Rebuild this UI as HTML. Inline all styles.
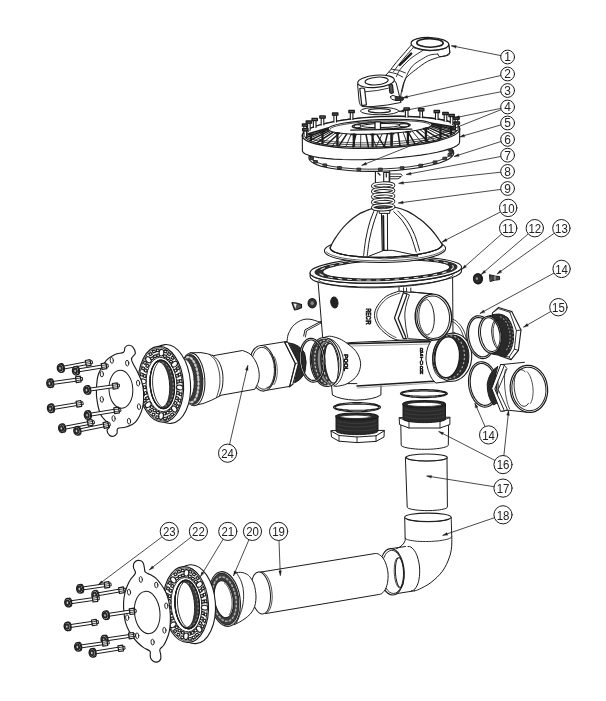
<!DOCTYPE html>
<html><head><meta charset="utf-8"><title>Valve exploded view</title>
<style>
html,body{margin:0;padding:0;background:#fff;}
body{width:606px;height:701px;overflow:hidden;font-family:"Liberation Sans",sans-serif;}
svg{display:block;}
svg text{font-family:"Liberation Sans",sans-serif;}
svg{filter:grayscale(1);}
</style></head><body>
<svg width="606" height="701" viewBox="0 0 606 701" fill="none" stroke-linecap="round" stroke-linejoin="round">
<rect x="0" y="0" width="606" height="701" fill="#fff" stroke="none"/>
<path d="M404.7,517.3 L405.3,540.4 Q402,546.5 396.4,548.7 L390.6,548.7 L391.5,594.4 L414.6,590.8 L414.6,590.8 L419.5,589.1 L431.0,582.5 L442.6,571.0 L449.2,557.8 L451.7,546.2 L451.6,532.0 L451.2,517.3 Z" fill="#fff" stroke="#1c1c1c" stroke-width="0" />
<path d="M451.2,517.3 C451.3,519.8 451.5,527.2 451.6,532.0 C451.7,536.8 452.1,541.9 451.7,546.2 C451.3,550.5 450.7,553.7 449.2,557.8 C447.7,561.9 445.6,566.9 442.6,571.0 C439.6,575.1 434.9,579.5 431.0,582.5 C427.1,585.5 422.2,587.7 419.5,589.1 C416.8,590.5 415.4,590.5 414.6,590.8" fill="none" stroke="#1c1c1c" stroke-width="1" />
<path d="M404.7,517.3 L405.2,540.4 Q403.5,546 396.4,548.7" fill="none" stroke="#1c1c1c" stroke-width="1" />
<ellipse cx="427.9" cy="517.3" rx="23.2" ry="4.2" fill="#fff" stroke="#1c1c1c" stroke-width="1.1" />
<path d="M449.5,518.4 L449.3,518.8 L448.8,519.3 L447.9,519.7 L446.6,520.0 L445.0,520.4 L443.2,520.7 L441.0,521.0 L438.7,521.3 L436.2,521.4 L433.5,521.6 L430.7,521.7 L427.9,521.7 L425.1,521.7 L422.3,521.6 L419.6,521.4 L417.1,521.3 L414.8,521.0 L412.6,520.7 L410.8,520.4 L409.2,520.0 L407.9,519.7 L407.0,519.3 L406.5,518.8 L406.3,518.4" fill="none" stroke="#1c1c1c" stroke-width="1.0" />
<path d="M451.6,536.8 L451.2,537.4 L450.6,537.9 L449.5,538.4 L448.1,539.0 L446.4,539.4 L444.4,539.9 L442.2,540.3 L439.7,540.7 L437.1,541.0 L434.3,541.2 L431.4,541.4 L428.5,541.5 L425.6,541.5 L422.7,541.5 L419.9,541.4 L417.3,541.3 L414.8,541.0 L412.5,540.7 L410.5,540.4 L408.8,540.0 L407.4,539.6 L406.3,539.1 L405.6,538.6 L405.2,538.0" fill="none" stroke="#1c1c1c" stroke-width="0.9" />
<path d="M390.6,548.7 L405.5,546.5 M391.5,594.4 L414.6,590.8" fill="none" stroke="#1c1c1c" stroke-width="1" />
<path d="M408.0,546.5 L409.4,546.6 L410.7,547.0 L412.0,547.9 L413.2,549.1 L414.4,550.6 L415.6,552.5 L416.6,554.6 L417.5,557.0 L418.2,559.5 L418.8,562.3 L419.3,565.1 L419.6,568.0 L419.7,570.9 L419.6,573.8 L419.4,576.6 L419.0,579.2 L418.5,581.7 L417.8,583.9 L416.9,585.9 L415.9,587.6 L414.9,589.0 L413.7,590.0 L412.4,590.7 L411.2,590.9" fill="none" stroke="#1c1c1c" stroke-width="1" />
<ellipse cx="391.8" cy="571.8" rx="12.3" ry="23.2" transform="rotate(-3 391.8 571.8)" fill="#fff" stroke="#1c1c1c" stroke-width="1.1" />
<ellipse cx="392.6" cy="571.9" rx="10.9" ry="21.6" transform="rotate(-3 392.6 571.9)" fill="#fff" stroke="#1c1c1c" stroke-width="0.9" />
<ellipse cx="399.7" cy="572.6" rx="4.3" ry="14.9" transform="rotate(-3 399.7 572.6)" fill="none" stroke="#1c1c1c" stroke-width="1" />
<path d="M398.6,587.3 L398.1,586.9 L397.6,586.4 L397.1,585.6 L396.7,584.7 L396.2,583.6 L395.8,582.3 L395.4,581.0 L395.1,579.5 L394.8,577.9 L394.6,576.3 L394.4,574.6 L394.3,572.8 L394.2,571.1 L394.2,569.4 L394.3,567.7 L394.4,566.1 L394.6,564.6 L394.8,563.2 L395.1,561.9 L395.4,560.8 L395.8,559.8 L396.2,559.0 L396.6,558.4 L397.1,558.0" fill="none" stroke="#1c1c1c" stroke-width="0.8" />
<path d="M258.1,572.5 L375.2,553.5 L376.7,553.5 L378.1,553.9 L379.5,554.7 L380.9,555.7 L382.2,557.1 L383.5,558.8 L384.6,560.7 L385.6,562.9 L386.4,565.3 L387.1,567.8 L387.6,570.4 L388.0,573.0 L388.1,575.7 L388.0,578.4 L387.8,581.0 L387.4,583.4 L386.8,585.7 L386.0,587.8 L385.1,589.7 L384.0,591.3 L382.9,592.6 L381.6,593.6 L380.2,594.2 L378.8,594.5 L266,613.5 Z" fill="#fff" stroke="#1c1c1c" stroke-width="0" />
<path d="M258.1,572.5 L375.2,553.5 L376.7,553.5 L378.1,553.9 L379.5,554.7 L380.9,555.7 L382.2,557.1 L383.5,558.8 L384.6,560.7 L385.6,562.9 L386.4,565.3 L387.1,567.8 L387.6,570.4 L388.0,573.0 L388.1,575.7 L388.0,578.4 L387.8,581.0 L387.4,583.4 L386.8,585.7 L386.0,587.8 L385.1,589.7 L384.0,591.3 L382.9,592.6 L381.6,593.6 L380.2,594.2 L378.8,594.5 L266,613.5" fill="none" stroke="#1c1c1c" stroke-width="1" />
<ellipse cx="260.7" cy="593.0" rx="9.6" ry="21.2" transform="rotate(-6 260.7 593)" fill="#fff" stroke="#1c1c1c" stroke-width="1" />
<path d="M261.0,571.9 L262.3,572.2 L263.5,572.7 L264.7,573.6 L265.8,574.8 L266.9,576.2 L268.0,578.0 L268.9,579.9 L269.8,582.0 L270.5,584.3 L271.1,586.7 L271.6,589.2 L271.9,591.8 L272.1,594.4 L272.2,596.9 L272.1,599.4 L271.8,601.8 L271.5,604.1 L270.9,606.2 L270.3,608.1 L269.5,609.7 L268.6,611.1 L267.6,612.2 L266.5,613.0 L265.4,613.5" fill="none" stroke="#1c1c1c" stroke-width="0.8" />
<path d="M234.3,573.2 C235.0,573.1 237.2,572.5 238.5,572.4 C239.8,572.3 240.8,572.2 242.2,572.5 C243.6,572.8 245.5,573.4 246.8,574.2 C248.1,575.0 249.1,575.7 250.2,577.2 C251.3,578.7 252.7,580.8 253.6,583.0 C254.5,585.2 255.0,588.1 255.4,590.4 C255.8,592.7 256.0,594.8 256.0,597.0 C256.0,599.2 255.8,601.5 255.4,603.6 C255.0,605.7 254.3,607.6 253.4,609.4 C252.5,611.1 251.6,612.6 250.2,614.1 C248.8,615.6 246.8,617.3 245.0,618.6 C243.2,619.9 241.4,621.0 239.6,622.0 C237.8,623.0 235.2,624.2 234.3,624.7 L226,600 Z" fill="#fff" stroke="#1c1c1c" stroke-width="0" />
<path d="M234.3,573.2 C235.0,573.1 237.2,572.5 238.5,572.4 C239.8,572.3 240.8,572.2 242.2,572.5 C243.6,572.8 245.5,573.4 246.8,574.2 C248.1,575.0 249.1,575.7 250.2,577.2 C251.3,578.7 252.7,580.8 253.6,583.0 C254.5,585.2 255.0,588.1 255.4,590.4 C255.8,592.7 256.0,594.8 256.0,597.0 C256.0,599.2 255.8,601.5 255.4,603.6 C255.0,605.7 254.3,607.6 253.4,609.4 C252.5,611.1 251.6,612.6 250.2,614.1 C248.8,615.6 246.8,617.3 245.0,618.6 C243.2,619.9 241.4,621.0 239.6,622.0 C237.8,623.0 235.2,624.2 234.3,624.7" fill="none" stroke="#1c1c1c" stroke-width="1" />
<path d="M236.5,572.8 C237.3,574.3 240.3,578.6 241.5,582.0 C242.7,585.4 243.4,589.0 243.6,593.0 C243.8,597.0 243.4,601.8 242.6,606.0 C241.8,610.2 239.7,615.0 238.6,618.0 C237.5,621.0 236.4,622.8 236.0,623.8" fill="none" stroke="#1c1c1c" stroke-width="0.9" />
<path d="M405.4,457.5 L407.2,507 L407.2,507.0 L407.4,507.5 L407.9,507.9 L408.7,508.4 L409.9,508.8 L411.4,509.2 L413.1,509.5 L415.1,509.9 L417.2,510.1 L419.6,510.3 L422.1,510.5 L424.7,510.6 L427.3,510.6 L429.9,510.6 L432.5,510.5 L435.0,510.3 L437.4,510.1 L439.5,509.9 L441.5,509.5 L443.2,509.2 L444.7,508.8 L445.9,508.4 L446.7,507.9 L447.2,507.5 L447.4,507.0 L447,457.5 Z" fill="#fff" stroke="#1c1c1c" stroke-width="1" />
<ellipse cx="426.7" cy="457.5" rx="20.6" ry="3.5" fill="#fff" stroke="#1c1c1c" stroke-width="1.1" />
<path d="M446.0,458.1 L445.8,458.5 L445.3,458.9 L444.5,459.2 L443.4,459.6 L442.0,459.9 L440.3,460.2 L438.4,460.4 L436.3,460.6 L434.1,460.8 L431.7,460.9 L429.2,461.0 L426.7,461.0 L424.2,461.0 L421.7,460.9 L419.3,460.8 L417.1,460.6 L415.0,460.4 L413.1,460.2 L411.4,459.9 L410.0,459.6 L408.9,459.2 L408.1,458.9 L407.6,458.5 L407.4,458.1" fill="none" stroke="#1c1c1c" stroke-width="0.8" />
<path d="M447.4,393.6 L447.2,394.1 L446.6,394.6 L445.6,395.1 L444.3,395.6 L442.5,396.0 L440.5,396.4 L438.2,396.8 L435.6,397.1 L432.9,397.3 L430.0,397.5 L427.0,397.6 L423.9,397.6 L420.8,397.6 L417.8,397.5 L414.9,397.3 L412.1,397.1 L409.6,396.8 L407.3,396.4 L405.3,396.0 L403.5,395.6 L402.2,395.1 L401.2,394.6 L400.6,394.1 L400.4,393.6 L400.6,393.1 L401.2,392.6 L402.2,392.1 L403.5,391.6 L405.3,391.2 L407.3,390.8 L409.6,390.4 L412.1,390.1 L414.9,389.9 L417.8,389.7 L420.8,389.6 L423.9,389.6 L427.0,389.6 L430.0,389.7 L432.9,389.9 L435.6,390.1 L438.2,390.4 L440.5,390.8 L442.5,391.2 L444.3,391.6 L445.6,392.1 L446.6,392.6 L447.2,393.1 L447.4,393.6 Z M446.0,393.6 L445.8,393.9 L445.2,394.3 L444.3,394.6 L443.0,394.9 L441.4,395.2 L439.5,395.4 L437.4,395.7 L434.9,395.9 L432.4,396.0 L429.6,396.1 L426.8,396.2 L423.9,396.2 L421.0,396.2 L418.2,396.1 L415.4,396.0 L412.8,395.9 L410.4,395.7 L408.3,395.4 L406.4,395.2 L404.8,394.9 L403.5,394.6 L402.6,394.3 L402.0,393.9 L401.8,393.6 L402.0,393.3 L402.6,392.9 L403.5,392.6 L404.8,392.3 L406.4,392.0 L408.3,391.8 L410.4,391.5 L412.8,391.3 L415.4,391.2 L418.2,391.1 L421.0,391.0 L423.9,391.0 L426.8,391.0 L429.6,391.1 L432.4,391.2 L434.9,391.3 L437.4,391.5 L439.5,391.8 L441.4,392.0 L443.0,392.3 L444.3,392.6 L445.2,392.9 L445.8,393.3 L446.0,393.6 Z" fill="#fff" stroke="#1c1c1c" stroke-width="1.1" fill-rule="evenodd"/>
<path d="M400.8,424 L401.2,445 L401.1,445.0 L401.3,445.6 L401.9,446.1 L402.9,446.6 L404.3,447.1 L406.0,447.6 L408.0,448.0 L410.3,448.4 L412.9,448.7 L415.7,449.0 L418.6,449.2 L421.6,449.3 L424.7,449.3 L427.8,449.3 L430.8,449.2 L433.7,449.0 L436.5,448.7 L439.1,448.4 L441.4,448.0 L443.4,447.6 L445.1,447.1 L446.5,446.6 L447.5,446.1 L448.1,445.6 L448.3,445.0 L448.6,424 Z" fill="#fff" stroke="#1c1c1c" stroke-width="1" />
<path d="M399.2,418 L399.5,424.5 L409,428 L440,428 L449.9,424.5 L449.9,417.6 Z" fill="#fff" stroke="#1c1c1c" stroke-width="1" />
<path d="M399.2,418 L409,421.4 L440,421.4 L449.9,417.6 M409,421.4 L409,428 M440,421.4 L440,428" fill="none" stroke="#1c1c1c" stroke-width="0.9" />
<path d="M403,404 L403,419 L403.0,419.0 L403.2,419.5 L403.7,419.9 L404.6,420.4 L405.8,420.8 L407.4,421.2 L409.2,421.5 L411.3,421.9 L413.6,422.1 L416.1,422.3 L418.8,422.5 L421.5,422.6 L424.2,422.6 L427.0,422.6 L429.7,422.5 L432.4,422.3 L434.9,422.1 L437.2,421.9 L439.3,421.5 L441.1,421.2 L442.7,420.8 L443.9,420.4 L444.8,419.9 L445.3,419.5 L445.5,419.0 L445.5,404 L445.5,404.0 L445.3,404.5 L444.8,404.9 L443.9,405.4 L442.7,405.8 L441.1,406.2 L439.3,406.5 L437.2,406.9 L434.9,407.1 L432.4,407.3 L429.7,407.5 L427.0,407.6 L424.2,407.6 L421.5,407.6 L418.8,407.5 L416.1,407.3 L413.6,407.1 L411.3,406.9 L409.2,406.5 L407.4,406.2 L405.8,405.8 L404.6,405.4 L403.7,404.9 L403.2,404.5 L403.0,404.0 Z" fill="#2a2a2a" stroke="#1c1c1c" stroke-width="1" />
<path d="M443.5,409.0 L442.7,409.3 L441.7,409.6 L440.5,409.9 L439.1,410.2 L437.6,410.5 L436.0,410.7 L434.2,410.9 L432.3,411.1 L430.4,411.2 L428.4,411.3 L426.3,411.3 L424.2,411.4 L422.2,411.3 L420.1,411.3 L418.1,411.2 L416.2,411.1 L414.3,410.9 L412.5,410.7 L410.9,410.5 L409.4,410.2 L408.0,409.9 L406.8,409.6 L405.8,409.3 L405.0,409.0" fill="none" stroke="#555" stroke-width="0.45" />
<path d="M443.5,412.7 L442.7,413.1 L441.7,413.4 L440.5,413.7 L439.1,414.0 L437.6,414.2 L436.0,414.4 L434.2,414.6 L432.3,414.8 L430.4,414.9 L428.4,415.0 L426.3,415.1 L424.2,415.1 L422.2,415.1 L420.1,415.0 L418.1,414.9 L416.2,414.8 L414.3,414.6 L412.5,414.4 L410.9,414.2 L409.4,414.0 L408.0,413.7 L406.8,413.4 L405.8,413.1 L405.0,412.7" fill="none" stroke="#555" stroke-width="0.45" />
<path d="M443.5,416.5 L442.7,416.8 L441.7,417.1 L440.5,417.4 L439.1,417.7 L437.6,418.0 L436.0,418.2 L434.2,418.4 L432.3,418.6 L430.4,418.7 L428.4,418.8 L426.3,418.8 L424.2,418.9 L422.2,418.8 L420.1,418.8 L418.1,418.7 L416.2,418.6 L414.3,418.4 L412.5,418.2 L410.9,418.0 L409.4,417.7 L408.0,417.4 L406.8,417.1 L405.8,416.8 L405.0,416.5" fill="none" stroke="#555" stroke-width="0.45" />
<ellipse cx="424.2" cy="404.2" rx="21.3" ry="3.5" fill="#2a2a2a" stroke="#1c1c1c" stroke-width="1.2" />
<ellipse cx="424.6" cy="404.4" rx="17.5" ry="2.1" fill="#fff" stroke="#1c1c1c" stroke-width="0.8" />
<path d="M380.5,407.2 L380.3,407.8 L379.7,408.4 L378.7,409.0 L377.4,409.5 L375.6,410.0 L373.6,410.5 L371.3,410.8 L368.8,411.2 L366.0,411.4 L363.1,411.6 L360.1,411.8 L357.0,411.8 L353.9,411.8 L350.9,411.6 L348.0,411.4 L345.2,411.2 L342.7,410.8 L340.4,410.5 L338.4,410.0 L336.6,409.5 L335.3,409.0 L334.3,408.4 L333.7,407.8 L333.5,407.2 L333.7,406.6 L334.3,406.0 L335.3,405.4 L336.6,404.9 L338.4,404.4 L340.4,403.9 L342.7,403.6 L345.2,403.2 L348.0,403.0 L350.9,402.8 L353.9,402.6 L357.0,402.6 L360.1,402.6 L363.1,402.8 L366.0,403.0 L368.8,403.2 L371.3,403.6 L373.6,403.9 L375.6,404.4 L377.4,404.9 L378.7,405.4 L379.7,406.0 L380.3,406.6 L380.5,407.2 Z M379.0,407.2 L378.8,407.6 L378.3,408.0 L377.3,408.4 L376.1,408.8 L374.5,409.1 L372.6,409.4 L370.4,409.7 L368.0,409.9 L365.4,410.1 L362.7,410.2 L359.9,410.3 L357.0,410.3 L354.1,410.3 L351.3,410.2 L348.6,410.1 L346.0,409.9 L343.6,409.7 L341.4,409.4 L339.5,409.1 L337.9,408.8 L336.7,408.4 L335.7,408.0 L335.2,407.6 L335.0,407.2 L335.2,406.8 L335.7,406.4 L336.7,406.0 L337.9,405.6 L339.5,405.3 L341.4,405.0 L343.6,404.7 L346.0,404.5 L348.6,404.3 L351.3,404.2 L354.1,404.1 L357.0,404.1 L359.9,404.1 L362.7,404.2 L365.4,404.3 L368.0,404.5 L370.4,404.7 L372.6,405.0 L374.5,405.3 L376.1,405.6 L377.3,406.0 L378.3,406.4 L378.8,406.8 L379.0,407.2 Z" fill="#fff" stroke="#1c1c1c" stroke-width="1.1" fill-rule="evenodd"/>
<path d="M331,431 L331.5,437 L339,441.2 L357,442.6 L376,441.4 L384,437 L384.3,430.8 Z" fill="#fff" stroke="#1c1c1c" stroke-width="1" />
<path d="M331,431 L339,435.5 L357,437 L376,435.8 L384.3,430.8" fill="none" stroke="#1c1c1c" stroke-width="1" />
<path d="M339,435.5 L339,441.2 M376,435.8 L376,441.4 M357,437 L357,442.6" fill="none" stroke="#1c1c1c" stroke-width="0.9" />
<path d="M336,416 L336,431 L336.0,431.0 L336.2,431.5 L336.7,431.9 L337.6,432.4 L338.8,432.8 L340.3,433.2 L342.2,433.5 L344.2,433.9 L346.5,434.1 L349.0,434.3 L351.6,434.5 L354.3,434.6 L357.0,434.6 L359.7,434.6 L362.4,434.5 L365.0,434.3 L367.5,434.1 L369.8,433.9 L371.8,433.5 L373.7,433.2 L375.2,432.8 L376.4,432.4 L377.3,431.9 L377.8,431.5 L378.0,431.0 L378,416 L378.0,416.0 L377.8,416.5 L377.3,416.9 L376.4,417.4 L375.2,417.8 L373.7,418.2 L371.8,418.5 L369.8,418.9 L367.5,419.1 L365.0,419.3 L362.4,419.5 L359.7,419.6 L357.0,419.6 L354.3,419.6 L351.6,419.5 L349.0,419.3 L346.5,419.1 L344.2,418.9 L342.2,418.5 L340.3,418.2 L338.8,417.8 L337.6,417.4 L336.7,416.9 L336.2,416.5 L336.0,416.0 Z" fill="#2a2a2a" stroke="#1c1c1c" stroke-width="1" />
<path d="M376.0,421.0 L375.2,421.3 L374.2,421.6 L373.0,421.9 L371.7,422.2 L370.2,422.5 L368.6,422.7 L366.8,422.9 L365.0,423.1 L363.1,423.2 L361.1,423.3 L359.1,423.3 L357.0,423.4 L354.9,423.3 L352.9,423.3 L350.9,423.2 L349.0,423.1 L347.2,422.9 L345.4,422.7 L343.8,422.5 L342.3,422.2 L341.0,421.9 L339.8,421.6 L338.8,421.3 L338.0,421.0" fill="none" stroke="#555" stroke-width="0.45" />
<path d="M376.0,424.7 L375.2,425.1 L374.2,425.4 L373.0,425.7 L371.7,426.0 L370.2,426.2 L368.6,426.4 L366.8,426.6 L365.0,426.8 L363.1,426.9 L361.1,427.0 L359.1,427.1 L357.0,427.1 L354.9,427.1 L352.9,427.0 L350.9,426.9 L349.0,426.8 L347.2,426.6 L345.4,426.4 L343.8,426.2 L342.3,426.0 L341.0,425.7 L339.8,425.4 L338.8,425.1 L338.0,424.7" fill="none" stroke="#555" stroke-width="0.45" />
<path d="M376.0,428.5 L375.2,428.8 L374.2,429.1 L373.0,429.4 L371.7,429.7 L370.2,430.0 L368.6,430.2 L366.8,430.4 L365.0,430.6 L363.1,430.7 L361.1,430.8 L359.1,430.8 L357.0,430.9 L354.9,430.8 L352.9,430.8 L350.9,430.7 L349.0,430.6 L347.2,430.4 L345.4,430.2 L343.8,430.0 L342.3,429.7 L341.0,429.4 L339.8,429.1 L338.8,428.8 L338.0,428.5" fill="none" stroke="#555" stroke-width="0.45" />
<ellipse cx="357.0" cy="416.4" rx="21.0" ry="3.4" fill="#2a2a2a" stroke="#1c1c1c" stroke-width="1.2" />
<ellipse cx="356.0" cy="416.8" rx="15.5" ry="1.7" fill="#fff" stroke="#1c1c1c" stroke-width="0.8" />
<ellipse cx="224.8" cy="599.0" rx="15.2" ry="27.6" transform="rotate(-9 224.8 599)" fill="#fff" stroke="#1c1c1c" stroke-width="1.1" />
<ellipse cx="224.6" cy="599.0" rx="14.0" ry="26.2" transform="rotate(-9 224.6 599)" fill="#3c3c3c" stroke="#1c1c1c" stroke-width="0.8" />
<ellipse cx="224.3" cy="599.1" rx="11.6" ry="22.4" transform="rotate(-9 224.3 599.1)" fill="none" stroke="#aaa" stroke-width="1.6" stroke-dasharray="1.5 2.5"/>
<ellipse cx="223.8" cy="599.2" rx="9.3" ry="18.6" transform="rotate(-9 223.8 599.2)" fill="#fff" stroke="#1c1c1c" stroke-width="1" />
<path d="M224.4,582.9 L225.3,583.7 L226.1,584.5 L226.9,585.5 L227.6,586.6 L228.3,587.7 L229.0,589.0 L229.6,590.4 L230.1,591.8 L230.6,593.2 L231.0,594.8 L231.4,596.3 L231.7,597.9 L231.9,599.5 L232.0,601.1 L232.1,602.7 L232.1,604.2 L232.0,605.7 L231.9,607.2 L231.6,608.6 L231.3,609.9 L230.9,611.2 L230.5,612.4 L230.0,613.4 L229.4,614.4" fill="none" stroke="#1c1c1c" stroke-width="0.8" />
<ellipse cx="192.9" cy="604.2" rx="22.5" ry="39.5" transform="rotate(-4.2 192.9 604.2)" fill="#fff" stroke="#1c1c1c" stroke-width="1.1" />
<ellipse cx="185.9" cy="604.5" rx="22.5" ry="38.0" transform="rotate(-4.2 185.9 604.5)" fill="#fff" stroke="#1c1c1c" stroke-width="1.15" />
<ellipse cx="185.9" cy="604.5" rx="21.3" ry="36.7" transform="rotate(-4.2 185.9 604.5)" fill="none" stroke="#1c1c1c" stroke-width="0.8" />
<ellipse cx="186.5" cy="604.7" rx="15.4" ry="27.2" transform="rotate(-4.2 186.5 604.7)" fill="none" stroke="#1c1c1c" stroke-width="0.9" />
<ellipse cx="204.6" cy="607.7" rx="2.4" ry="3.3" transform="rotate(98.0 204.59838877298503 607.7004835159366)" fill="#fff" stroke="#1c1c1c" stroke-width="1.1" />
<rect x="204.4" y="613.2" width="2.3" height="2.7" fill="#fff" stroke="#1c1c1c" stroke-width="1.1" transform="rotate(15 205.6 614.5)"/>
<rect x="201.7" y="611.8" width="2.3" height="2.7" fill="#fff" stroke="#1c1c1c" stroke-width="1.1" transform="rotate(15 202.8 613.1)"/>
<rect x="203.3" y="619.4" width="2.3" height="2.7" fill="#fff" stroke="#1c1c1c" stroke-width="1.1" transform="rotate(26 204.4 620.7)"/>
<rect x="200.7" y="617.1" width="2.3" height="2.7" fill="#fff" stroke="#1c1c1c" stroke-width="1.1" transform="rotate(26 201.8 618.5)"/>
<rect x="201.4" y="625.0" width="2.3" height="2.7" fill="#fff" stroke="#1c1c1c" stroke-width="1.1" transform="rotate(38 202.5 626.3)"/>
<rect x="199.1" y="621.9" width="2.3" height="2.7" fill="#fff" stroke="#1c1c1c" stroke-width="1.1" transform="rotate(38 200.2 623.3)"/>
<ellipse cx="199.0" cy="629.2" rx="2.4" ry="3.3" transform="rotate(143.0 199.04948961905626 629.2014671170533)" fill="#fff" stroke="#1c1c1c" stroke-width="1.1" />
<rect x="195.8" y="633.4" width="2.3" height="2.7" fill="#fff" stroke="#1c1c1c" stroke-width="1.1" transform="rotate(60 197.0 634.8)"/>
<rect x="194.3" y="629.2" width="2.3" height="2.7" fill="#fff" stroke="#1c1c1c" stroke-width="1.1" transform="rotate(60 195.5 630.6)"/>
<rect x="192.4" y="636.0" width="2.3" height="2.7" fill="#fff" stroke="#1c1c1c" stroke-width="1.1" transform="rotate(71 193.6 637.4)"/>
<rect x="191.4" y="631.4" width="2.3" height="2.7" fill="#fff" stroke="#1c1c1c" stroke-width="1.1" transform="rotate(71 192.5 632.8)"/>
<rect x="188.7" y="637.3" width="2.3" height="2.7" fill="#fff" stroke="#1c1c1c" stroke-width="1.1" transform="rotate(83 189.8 638.7)"/>
<rect x="188.2" y="632.6" width="2.3" height="2.7" fill="#fff" stroke="#1c1c1c" stroke-width="1.1" transform="rotate(83 189.3 633.9)"/>
<ellipse cx="186.0" cy="636.3" rx="2.4" ry="3.3" transform="rotate(188.0 185.97353371585666 636.2912449352759)" fill="#fff" stroke="#1c1c1c" stroke-width="1.1" />
<rect x="180.9" y="636.0" width="2.3" height="2.7" fill="#fff" stroke="#1c1c1c" stroke-width="1.1" transform="rotate(105 182.1 637.4)"/>
<rect x="181.5" y="631.4" width="2.3" height="2.7" fill="#fff" stroke="#1c1c1c" stroke-width="1.1" transform="rotate(105 182.7 632.8)"/>
<rect x="177.2" y="633.5" width="2.3" height="2.7" fill="#fff" stroke="#1c1c1c" stroke-width="1.1" transform="rotate(116 178.4 634.8)"/>
<rect x="178.4" y="629.2" width="2.3" height="2.7" fill="#fff" stroke="#1c1c1c" stroke-width="1.1" transform="rotate(116 179.5 630.6)"/>
<rect x="173.8" y="629.7" width="2.3" height="2.7" fill="#fff" stroke="#1c1c1c" stroke-width="1.1" transform="rotate(128 175.0 631.1)"/>
<rect x="175.4" y="626.0" width="2.3" height="2.7" fill="#fff" stroke="#1c1c1c" stroke-width="1.1" transform="rotate(128 176.6 627.4)"/>
<ellipse cx="173.0" cy="624.8" rx="2.4" ry="3.3" transform="rotate(233.0 173.03023869048798 624.8167212789015)" fill="#fff" stroke="#1c1c1c" stroke-width="1.1" />
<rect x="168.4" y="619.4" width="2.3" height="2.7" fill="#fff" stroke="#1c1c1c" stroke-width="1.1" transform="rotate(150 169.6 620.8)"/>
<rect x="170.8" y="617.1" width="2.3" height="2.7" fill="#fff" stroke="#1c1c1c" stroke-width="1.1" transform="rotate(150 172.0 618.5)"/>
<rect x="166.7" y="613.2" width="2.3" height="2.7" fill="#fff" stroke="#1c1c1c" stroke-width="1.1" transform="rotate(161 167.8 614.6)"/>
<rect x="169.3" y="611.8" width="2.3" height="2.7" fill="#fff" stroke="#1c1c1c" stroke-width="1.1" transform="rotate(161 170.4 613.2)"/>
<rect x="165.6" y="606.6" width="2.3" height="2.7" fill="#fff" stroke="#1c1c1c" stroke-width="1.1" transform="rotate(173 166.7 608.0)"/>
<rect x="168.3" y="606.2" width="2.3" height="2.7" fill="#fff" stroke="#1c1c1c" stroke-width="1.1" transform="rotate(173 169.5 607.5)"/>
<ellipse cx="167.8" cy="601.5" rx="2.4" ry="3.3" transform="rotate(278.0 167.80161122701503 601.4995164840634)" fill="#fff" stroke="#1c1c1c" stroke-width="1.1" />
<rect x="165.7" y="593.3" width="2.3" height="2.7" fill="#fff" stroke="#1c1c1c" stroke-width="1.1" transform="rotate(195 166.8 594.7)"/>
<rect x="168.4" y="594.7" width="2.3" height="2.7" fill="#fff" stroke="#1c1c1c" stroke-width="1.1" transform="rotate(195 169.6 596.1)"/>
<rect x="166.8" y="587.1" width="2.3" height="2.7" fill="#fff" stroke="#1c1c1c" stroke-width="1.1" transform="rotate(206 168.0 588.5)"/>
<rect x="169.4" y="589.4" width="2.3" height="2.7" fill="#fff" stroke="#1c1c1c" stroke-width="1.1" transform="rotate(206 170.6 590.7)"/>
<rect x="168.7" y="581.5" width="2.3" height="2.7" fill="#fff" stroke="#1c1c1c" stroke-width="1.1" transform="rotate(218 169.9 582.9)"/>
<rect x="171.0" y="584.6" width="2.3" height="2.7" fill="#fff" stroke="#1c1c1c" stroke-width="1.1" transform="rotate(218 172.2 585.9)"/>
<ellipse cx="173.4" cy="580.0" rx="2.4" ry="3.3" transform="rotate(323.0 173.35051038094377 579.9985328829467)" fill="#fff" stroke="#1c1c1c" stroke-width="1.1" />
<rect x="174.3" y="573.1" width="2.3" height="2.7" fill="#fff" stroke="#1c1c1c" stroke-width="1.1" transform="rotate(240 175.4 574.4)"/>
<rect x="175.8" y="577.3" width="2.3" height="2.7" fill="#fff" stroke="#1c1c1c" stroke-width="1.1" transform="rotate(240 176.9 578.6)"/>
<rect x="177.7" y="570.5" width="2.3" height="2.7" fill="#fff" stroke="#1c1c1c" stroke-width="1.1" transform="rotate(251 178.8 571.8)"/>
<rect x="178.7" y="575.1" width="2.3" height="2.7" fill="#fff" stroke="#1c1c1c" stroke-width="1.1" transform="rotate(251 179.9 576.4)"/>
<rect x="181.4" y="569.2" width="2.3" height="2.7" fill="#fff" stroke="#1c1c1c" stroke-width="1.1" transform="rotate(263 182.6 570.5)"/>
<rect x="181.9" y="573.9" width="2.3" height="2.7" fill="#fff" stroke="#1c1c1c" stroke-width="1.1" transform="rotate(263 183.1 575.3)"/>
<ellipse cx="186.4" cy="572.9" rx="2.4" ry="3.3" transform="rotate(368.0 186.42646628414337 572.9087550647241)" fill="#fff" stroke="#1c1c1c" stroke-width="1.1" />
<rect x="189.2" y="570.5" width="2.3" height="2.7" fill="#fff" stroke="#1c1c1c" stroke-width="1.1" transform="rotate(285 190.3 571.8)"/>
<rect x="188.6" y="575.1" width="2.3" height="2.7" fill="#fff" stroke="#1c1c1c" stroke-width="1.1" transform="rotate(285 189.7 576.4)"/>
<rect x="192.9" y="573.0" width="2.3" height="2.7" fill="#fff" stroke="#1c1c1c" stroke-width="1.1" transform="rotate(296 194.0 574.4)"/>
<rect x="191.7" y="577.3" width="2.3" height="2.7" fill="#fff" stroke="#1c1c1c" stroke-width="1.1" transform="rotate(296 192.9 578.6)"/>
<rect x="196.3" y="576.8" width="2.3" height="2.7" fill="#fff" stroke="#1c1c1c" stroke-width="1.1" transform="rotate(308 197.4 578.1)"/>
<rect x="194.7" y="580.5" width="2.3" height="2.7" fill="#fff" stroke="#1c1c1c" stroke-width="1.1" transform="rotate(308 195.8 581.8)"/>
<ellipse cx="199.4" cy="584.4" rx="2.4" ry="3.3" transform="rotate(413.0 199.36976130951203 584.3832787210986)" fill="#fff" stroke="#1c1c1c" stroke-width="1.1" />
<rect x="201.7" y="587.1" width="2.3" height="2.7" fill="#fff" stroke="#1c1c1c" stroke-width="1.1" transform="rotate(330 202.8 588.4)"/>
<rect x="199.3" y="589.4" width="2.3" height="2.7" fill="#fff" stroke="#1c1c1c" stroke-width="1.1" transform="rotate(330 200.4 590.7)"/>
<rect x="203.4" y="593.3" width="2.3" height="2.7" fill="#fff" stroke="#1c1c1c" stroke-width="1.1" transform="rotate(341 204.6 594.6)"/>
<rect x="200.8" y="594.7" width="2.3" height="2.7" fill="#fff" stroke="#1c1c1c" stroke-width="1.1" transform="rotate(341 202.0 596.0)"/>
<rect x="204.5" y="599.9" width="2.3" height="2.7" fill="#fff" stroke="#1c1c1c" stroke-width="1.1" transform="rotate(353 205.7 601.2)"/>
<rect x="201.8" y="600.3" width="2.3" height="2.7" fill="#fff" stroke="#1c1c1c" stroke-width="1.1" transform="rotate(353 202.9 601.7)"/>
<ellipse cx="187.2" cy="604.5" rx="12.2" ry="24.4" transform="rotate(-4.2 187.20000000000002 604.5)" fill="#3a3a3a" stroke="#1c1c1c" stroke-width="1.1" />
<ellipse cx="188.6" cy="604.5" rx="9.5" ry="21.5" transform="rotate(-4.2 188.60000000000002 604.5)" fill="none" stroke="#888" stroke-width="1.2" stroke-dasharray="1 3"/>
<path d="M194.5,604.1 L194.6,607.7 L194.5,611.2 L194.2,614.5 L193.6,617.6 L192.9,620.4 L191.9,622.8 L190.7,624.7 L189.4,626.2 L188.0,627.1 L186.6,627.5 L185.1,627.4 L183.5,626.6 L182.0,625.4 L180.6,623.6 L179.3,621.4 L178.1,618.7 L177.1,615.7 L176.3,612.5 L175.7,609.1 L175.3,605.5 L175.2,601.9 L175.3,598.4 L175.6,595.1 L176.2,592.0 L176.9,589.2 L177.9,586.8 L179.1,584.9 L180.4,583.4 L181.8,582.5 L183.2,582.1 L184.7,582.2 L186.3,583.0 L187.8,584.2 L189.2,586.0 L190.5,588.2 L191.7,590.9 L192.7,593.9 L193.5,597.1 L194.1,600.5 L194.5,604.1 Z" fill="#fff" stroke="#1c1c1c" stroke-width="0.9" />
<path d="M187.9,628.8 L186.4,628.5 L184.9,627.8 L183.4,626.7 L182.0,625.3 L180.7,623.6 L179.4,621.6 L178.3,619.3 L177.3,616.8 L176.5,614.2 L175.8,611.3 L175.3,608.4 L175.0,605.4 L174.9,602.4 L175.0,599.4 L175.2,596.5 L175.6,593.7 L176.2,591.1 L177.0,588.7 L178.0,586.6 L179.0,584.7 L180.2,583.1 L181.5,581.8 L182.9,580.9 L184.4,580.3" fill="none" stroke="#1c1c1c" stroke-width="1.1" />
<path d="M186.3,626.9 L185.2,625.9 L184.1,624.8 L183.1,623.4 L182.2,621.8 L181.3,620.2 L180.5,618.3 L179.8,616.4 L179.2,614.3 L178.6,612.2 L178.2,610.0 L177.9,607.7 L177.6,605.4 L177.5,603.1 L177.5,600.8 L177.6,598.5 L177.8,596.3 L178.2,594.2 L178.6,592.2 L179.1,590.3 L179.7,588.5 L180.4,586.8 L181.2,585.3 L182.1,584.0 L183.0,582.8" fill="none" stroke="#1c1c1c" stroke-width="0.9" />
<ellipse cx="187.2" cy="604.5" rx="12.2" ry="24.4" transform="rotate(-4.2 187.20000000000002 604.5)" fill="none" stroke="#1c1c1c" stroke-width="1.1" />
<path d="M135.4,573.2 C135.9,571.3 133.9,569.5 133.6,568.0 C133.3,566.5 133.2,565.3 133.6,564.1 C134.0,562.9 135.1,561.6 136.0,561.0 C136.9,560.4 138.0,560.3 139.0,560.4 C140.0,560.5 141.2,560.8 142.0,561.4 C142.8,562.0 143.2,563.0 143.6,564.1 C144.0,565.2 144.1,566.6 144.4,568.0 C144.7,569.4 144.3,571.0 145.4,572.2 C146.5,573.4 149.2,573.9 151.0,575.0 C152.8,576.1 154.6,576.9 156.3,578.6 C158.1,580.3 160.0,582.9 161.5,585.0 C163.0,587.1 164.1,588.8 165.3,591.3 C166.5,593.8 167.7,597.0 168.5,600.0 C169.3,603.0 169.6,606.3 169.9,609.5 C170.2,612.7 170.4,616.0 170.4,619.0 C170.4,622.0 170.2,625.0 169.9,627.6 C169.6,630.2 169.1,632.4 168.5,634.5 C167.9,636.6 167.1,638.5 166.3,640.3 C165.5,642.1 164.6,644.0 163.5,645.5 C162.4,647.0 160.4,648.0 159.9,649.4 C159.4,650.8 160.4,652.5 160.6,654.0 C160.8,655.5 161.1,657.3 160.8,658.5 C160.5,659.7 159.8,660.6 159.0,661.2 C158.2,661.8 157.3,662.1 156.3,662.1 C155.3,662.1 153.9,661.6 153.0,661.0 C152.1,660.4 151.3,659.5 150.8,658.5 C150.3,657.5 150.3,656.2 150.2,655.0 C150.0,653.8 151.0,652.4 149.9,651.2 C148.8,650.0 145.7,649.1 143.6,647.6 C141.5,646.1 139.3,644.3 137.5,642.5 C135.7,640.7 134.2,638.8 132.7,636.7 C131.2,634.6 129.7,632.4 128.5,630.0 C127.3,627.6 126.2,625.2 125.4,622.2 C124.6,619.2 124.2,615.3 123.9,612.0 C123.6,608.7 123.4,605.3 123.6,602.2 C123.8,599.1 124.2,596.2 124.8,593.5 C125.4,590.8 126.2,588.2 127.2,585.9 C128.2,583.6 129.1,581.6 130.5,579.5 C131.9,577.4 134.9,575.1 135.4,573.2 Z" fill="#fff" stroke="#1c1c1c" stroke-width="1.15" />
<ellipse cx="147.2" cy="612.5" rx="12.7" ry="21.2" transform="rotate(-6 147.2 612.5)" fill="#fff" stroke="#1c1c1c" stroke-width="1" />
<ellipse cx="140.8" cy="579.5" rx="1.6" ry="2.9" transform="rotate(-5 140.8 579.5)" fill="#fff" stroke="#1c1c1c" stroke-width="0.9" />
<ellipse cx="156.3" cy="585.0" rx="1.6" ry="2.9" transform="rotate(-5 156.3 585)" fill="#fff" stroke="#1c1c1c" stroke-width="0.9" />
<ellipse cx="129.0" cy="592.2" rx="1.6" ry="2.9" transform="rotate(-5 129 592.2)" fill="#fff" stroke="#1c1c1c" stroke-width="0.9" />
<ellipse cx="166.3" cy="605.8" rx="1.6" ry="2.9" transform="rotate(-5 166.3 605.8)" fill="#fff" stroke="#1c1c1c" stroke-width="0.9" />
<ellipse cx="127.2" cy="617.6" rx="1.6" ry="2.9" transform="rotate(-5 127.2 617.6)" fill="#fff" stroke="#1c1c1c" stroke-width="0.9" />
<ellipse cx="164.4" cy="630.3" rx="1.6" ry="2.9" transform="rotate(-5 164.4 630.3)" fill="#fff" stroke="#1c1c1c" stroke-width="0.9" />
<ellipse cx="137.2" cy="635.8" rx="1.6" ry="2.9" transform="rotate(-5 137.2 635.8)" fill="#fff" stroke="#1c1c1c" stroke-width="0.9" />
<ellipse cx="152.6" cy="642.1" rx="1.6" ry="2.9" transform="rotate(-5 152.6 642.1)" fill="#fff" stroke="#1c1c1c" stroke-width="0.9" />
<path d="M83.0,589.9 L111.3,585.7 L110.8,582.9 L82.6,587.0 Z" fill="#fff" stroke="#1c1c1c" stroke-width="1.0" />
<path d="M104.9,588.1 L109.7,587.4 L108.9,581.7 L104.1,582.4 Z" fill="#fff" stroke="#1c1c1c" stroke-width="1.2" />
<line x1="104.7" y1="586.2" x2="109.4" y2="585.5" stroke="#1c1c1c" stroke-width="0.8"/>
<line x1="104.4" y1="584.3" x2="109.1" y2="583.6" stroke="#1c1c1c" stroke-width="0.8"/>
<ellipse cx="81.4" cy="588.7" rx="2.2" ry="4.3" transform="rotate(-8.39631727663802 81.38285075280128 588.6663688925754)" fill="#fff" stroke="#1c1c1c" stroke-width="1.2" />
<ellipse cx="79.8" cy="588.9" rx="3.1" ry="4.2" transform="rotate(-8.39631727663802 79.8 588.9)" fill="#fff" stroke="#1c1c1c" stroke-width="1.4" />
<ellipse cx="79.5" cy="588.9" rx="2.0" ry="2.8" transform="rotate(-8.39631727663802 79.50321548384976 588.943805832642)" fill="#333" stroke="#1c1c1c" stroke-width="1.0" />
<ellipse cx="79.3" cy="589.0" rx="0.8" ry="1.2" transform="rotate(-8.39631727663802 79.3053591397496 588.9730097210702)" fill="#ccc" stroke="#1c1c1c" stroke-width="0" />
<path d="M98.2,595.7 L125.8,590.9 L125.3,588.1 L97.7,592.9 Z" fill="#fff" stroke="#1c1c1c" stroke-width="1.0" />
<path d="M119.5,593.5 L124.3,592.6 L123.3,586.9 L118.5,587.8 Z" fill="#fff" stroke="#1c1c1c" stroke-width="1.2" />
<line x1="119.2" y1="591.6" x2="123.9" y2="590.8" stroke="#1c1c1c" stroke-width="0.8"/>
<line x1="118.9" y1="589.6" x2="123.6" y2="588.8" stroke="#1c1c1c" stroke-width="0.8"/>
<ellipse cx="96.6" cy="594.5" rx="2.2" ry="4.3" transform="rotate(-9.884124007521876 96.57625108461752 594.5253501898014)" fill="#fff" stroke="#1c1c1c" stroke-width="1.2" />
<ellipse cx="95.0" cy="594.8" rx="3.1" ry="4.2" transform="rotate(-9.884124007521876 95 594.8)" fill="#fff" stroke="#1c1c1c" stroke-width="1.4" />
<ellipse cx="94.7" cy="594.9" rx="2.0" ry="2.8" transform="rotate(-9.884124007521876 94.70445292163421 594.8514968394122)" fill="#333" stroke="#1c1c1c" stroke-width="1.0" />
<ellipse cx="94.5" cy="594.9" rx="0.8" ry="1.2" transform="rotate(-9.884124007521876 94.50742153605702 594.885828065687)" fill="#ccc" stroke="#1c1c1c" stroke-width="0" />
<path d="M71.1,603.7 L99.4,599.6 L99.0,596.8 L70.7,600.8 Z" fill="#fff" stroke="#1c1c1c" stroke-width="1.0" />
<path d="M93.0,602.0 L97.8,601.3 L97.0,595.6 L92.2,596.3 Z" fill="#fff" stroke="#1c1c1c" stroke-width="1.2" />
<line x1="92.8" y1="600.1" x2="97.5" y2="599.4" stroke="#1c1c1c" stroke-width="0.8"/>
<line x1="92.5" y1="598.2" x2="97.2" y2="597.5" stroke="#1c1c1c" stroke-width="0.8"/>
<ellipse cx="69.5" cy="602.5" rx="2.2" ry="4.3" transform="rotate(-8.189292187969096 69.48368459048942 602.4720896714795)" fill="#fff" stroke="#1c1c1c" stroke-width="1.2" />
<ellipse cx="67.9" cy="602.7" rx="3.1" ry="4.2" transform="rotate(-8.189292187969096 67.9 602.7)" fill="#fff" stroke="#1c1c1c" stroke-width="1.4" />
<ellipse cx="67.6" cy="602.7" rx="2.0" ry="2.8" transform="rotate(-8.189292187969096 67.60305913928325 602.7427331865977)" fill="#333" stroke="#1c1c1c" stroke-width="1.0" />
<ellipse cx="67.4" cy="602.8" rx="0.8" ry="1.2" transform="rotate(-8.189292187969096 67.40509856547206 602.7712219776628)" fill="#ccc" stroke="#1c1c1c" stroke-width="0" />
<path d="M108.7,616.3 L136.4,612.1 L135.9,609.2 L108.2,613.4 Z" fill="#fff" stroke="#1c1c1c" stroke-width="1.0" />
<path d="M130.1,614.5 L134.8,613.8 L133.9,608.1 L129.2,608.8 Z" fill="#fff" stroke="#1c1c1c" stroke-width="1.2" />
<line x1="129.8" y1="612.6" x2="134.5" y2="611.9" stroke="#1c1c1c" stroke-width="0.8"/>
<line x1="129.5" y1="610.7" x2="134.2" y2="610.0" stroke="#1c1c1c" stroke-width="0.8"/>
<ellipse cx="107.1" cy="615.1" rx="2.2" ry="4.3" transform="rotate(-8.583621480113948 107.08207853869854 615.0611956922719)" fill="#fff" stroke="#1c1c1c" stroke-width="1.2" />
<ellipse cx="105.5" cy="615.3" rx="3.1" ry="4.2" transform="rotate(-8.583621480113948 105.5 615.3)" fill="#fff" stroke="#1c1c1c" stroke-width="1.4" />
<ellipse cx="105.2" cy="615.3" rx="2.0" ry="2.8" transform="rotate(-8.583621480113948 105.20336027399402 615.344775807699)" fill="#333" stroke="#1c1c1c" stroke-width="1.0" />
<ellipse cx="105.0" cy="615.4" rx="0.8" ry="1.2" transform="rotate(-8.583621480113948 105.00560045665671 615.374626346165)" fill="#ccc" stroke="#1c1c1c" stroke-width="0" />
<path d="M70.5,627.5 L98.7,623.3 L98.2,620.5 L70.1,624.6 Z" fill="#fff" stroke="#1c1c1c" stroke-width="1.0" />
<path d="M92.4,625.7 L97.1,625.0 L96.2,619.3 L91.5,620.0 Z" fill="#fff" stroke="#1c1c1c" stroke-width="1.2" />
<line x1="92.1" y1="623.8" x2="96.8" y2="623.1" stroke="#1c1c1c" stroke-width="0.8"/>
<line x1="91.8" y1="621.9" x2="96.5" y2="621.2" stroke="#1c1c1c" stroke-width="0.8"/>
<ellipse cx="68.9" cy="626.3" rx="2.2" ry="4.3" transform="rotate(-8.426969021480673 68.88272553976618 626.2655221422568)" fill="#fff" stroke="#1c1c1c" stroke-width="1.2" />
<ellipse cx="67.3" cy="626.5" rx="3.1" ry="4.2" transform="rotate(-8.426969021480673 67.3 626.5)" fill="#fff" stroke="#1c1c1c" stroke-width="1.4" />
<ellipse cx="67.0" cy="626.5" rx="2.0" ry="2.8" transform="rotate(-8.426969021480673 67.00323896129383 626.5439645983269)" fill="#333" stroke="#1c1c1c" stroke-width="1.0" />
<ellipse cx="66.8" cy="626.6" rx="0.8" ry="1.2" transform="rotate(-8.426969021480673 66.80539826882305 626.5732743305447)" fill="#ccc" stroke="#1c1c1c" stroke-width="0" />
<path d="M107.4,640.7 L135.7,636.5 L135.2,633.7 L107.0,637.8 Z" fill="#fff" stroke="#1c1c1c" stroke-width="1.0" />
<path d="M129.3,638.9 L134.1,638.2 L133.3,632.5 L128.5,633.2 Z" fill="#fff" stroke="#1c1c1c" stroke-width="1.2" />
<line x1="129.1" y1="637.0" x2="133.8" y2="636.3" stroke="#1c1c1c" stroke-width="0.8"/>
<line x1="128.8" y1="635.1" x2="133.5" y2="634.4" stroke="#1c1c1c" stroke-width="0.8"/>
<ellipse cx="105.8" cy="639.5" rx="2.2" ry="4.3" transform="rotate(-8.39631727663802 105.78285075280128 639.4663688925755)" fill="#fff" stroke="#1c1c1c" stroke-width="1.2" />
<ellipse cx="104.2" cy="639.7" rx="3.1" ry="4.2" transform="rotate(-8.39631727663802 104.2 639.7)" fill="#fff" stroke="#1c1c1c" stroke-width="1.4" />
<ellipse cx="103.9" cy="639.7" rx="2.0" ry="2.8" transform="rotate(-8.39631727663802 103.90321548384976 639.7438058326421)" fill="#333" stroke="#1c1c1c" stroke-width="1.0" />
<ellipse cx="103.7" cy="639.8" rx="0.8" ry="1.2" transform="rotate(-8.39631727663802 103.7053591397496 639.7730097210703)" fill="#ccc" stroke="#1c1c1c" stroke-width="0" />
<path d="M81.0,647.9 L109.3,643.8 L108.9,641.0 L80.6,645.0 Z" fill="#fff" stroke="#1c1c1c" stroke-width="1.0" />
<path d="M102.9,646.2 L107.7,645.5 L106.9,639.8 L102.1,640.5 Z" fill="#fff" stroke="#1c1c1c" stroke-width="1.2" />
<line x1="102.7" y1="644.3" x2="107.4" y2="643.6" stroke="#1c1c1c" stroke-width="0.8"/>
<line x1="102.4" y1="642.4" x2="107.1" y2="641.7" stroke="#1c1c1c" stroke-width="0.8"/>
<ellipse cx="79.4" cy="646.7" rx="2.2" ry="4.3" transform="rotate(-8.189292187968856 79.38368459048941 646.6720896714794)" fill="#fff" stroke="#1c1c1c" stroke-width="1.2" />
<ellipse cx="77.8" cy="646.9" rx="3.1" ry="4.2" transform="rotate(-8.189292187968856 77.8 646.9)" fill="#fff" stroke="#1c1c1c" stroke-width="1.4" />
<ellipse cx="77.5" cy="646.9" rx="2.0" ry="2.8" transform="rotate(-8.189292187968856 77.50305913928324 646.9427331865976)" fill="#333" stroke="#1c1c1c" stroke-width="1.0" />
<ellipse cx="77.3" cy="647.0" rx="0.8" ry="1.2" transform="rotate(-8.189292187968856 77.30509856547205 646.9712219776627)" fill="#ccc" stroke="#1c1c1c" stroke-width="0" />
<path d="M95.5,653.9 L125.1,649.1 L124.6,646.2 L95.0,651.0 Z" fill="#fff" stroke="#1c1c1c" stroke-width="1.0" />
<path d="M118.8,651.5 L123.5,650.8 L122.6,645.1 L117.9,645.8 Z" fill="#fff" stroke="#1c1c1c" stroke-width="1.2" />
<line x1="118.5" y1="649.7" x2="123.2" y2="648.9" stroke="#1c1c1c" stroke-width="0.8"/>
<line x1="118.2" y1="647.7" x2="122.9" y2="646.9" stroke="#1c1c1c" stroke-width="0.8"/>
<ellipse cx="93.9" cy="652.6" rx="2.2" ry="4.3" transform="rotate(-9.200400469070386 93.87941623609392 652.644179060351)" fill="#fff" stroke="#1c1c1c" stroke-width="1.2" />
<ellipse cx="92.3" cy="652.9" rx="3.1" ry="4.2" transform="rotate(-9.200400469070386 92.3 652.9)" fill="#fff" stroke="#1c1c1c" stroke-width="1.4" />
<ellipse cx="92.0" cy="652.9" rx="2.0" ry="2.8" transform="rotate(-9.200400469070386 92.00385945573238 652.9479664261842)" fill="#333" stroke="#1c1c1c" stroke-width="1.0" />
<ellipse cx="91.8" cy="653.0" rx="0.8" ry="1.2" transform="rotate(-9.200400469070386 91.80643242622065 652.9799440436403)" fill="#ccc" stroke="#1c1c1c" stroke-width="0" />
<path d="M287.0,341.4 C287.2,340.3 287.6,336.6 288.0,335.0 C288.4,333.4 288.8,332.9 289.5,331.5 C290.2,330.1 291.4,327.9 292.5,326.5 C293.6,325.1 294.8,324.3 296.1,323.3 C297.4,322.3 298.9,321.3 300.5,320.6 C302.1,319.9 304.1,319.3 306.0,319.1 C307.9,318.9 310.1,319.2 312.0,319.6 C313.9,320.0 316.0,320.9 317.6,321.4 C319.2,321.9 320.8,322.4 321.4,322.6 L322.5,345 L300,350 Z" fill="#fff" stroke="#1c1c1c" stroke-width="0" />
<path d="M287.0,341.4 C287.2,340.3 287.6,336.6 288.0,335.0 C288.4,333.4 288.8,332.9 289.5,331.5 C290.2,330.1 291.4,327.9 292.5,326.5 C293.6,325.1 294.8,324.3 296.1,323.3 C297.4,322.3 298.9,321.3 300.5,320.6 C302.1,319.9 304.1,319.3 306.0,319.1 C307.9,318.9 310.1,319.2 312.0,319.6 C313.9,320.0 316.0,320.9 317.6,321.4 C319.2,321.9 320.8,322.4 321.4,322.6" fill="none" stroke="#1c1c1c" stroke-width="1" />
<path d="M321,321.3 L305,329.8 L303.7,336" fill="none" stroke="#1c1c1c" stroke-width="1" />
<path d="M321,323 L306.6,330.8 L305.4,337" fill="none" stroke="#1c1c1c" stroke-width="0.9" />
<path d="M318,281 L323.3,345 L352,342.5 L430,339 L453,338 L452.6,277 Z" fill="#fff" stroke="#1c1c1c" stroke-width="1" />
<path d="M461.5,270.8 L461.0,272.5 L459.1,274.3 L456.0,276.0 L451.6,277.7 L446.2,279.3 L439.7,280.8 L432.3,282.2 L424.1,283.5 L415.2,284.6 L405.9,285.5 L396.2,286.2 L386.3,286.7 L376.4,287.0 L366.7,287.0 L357.3,286.8 L348.4,286.4 L340.1,285.8 L332.6,284.9 L326.0,283.9 L320.5,282.7 L316.0,281.4 L312.8,279.9 L310.8,278.3 L310.1,276.6 L310.1,272.9 L310.8,274.6 L312.8,276.2 L316.0,277.7 L320.5,279.0 L326.0,280.2 L332.6,281.2 L340.1,282.1 L348.4,282.7 L357.3,283.1 L366.7,283.3 L376.4,283.3 L386.3,283.0 L396.2,282.5 L405.9,281.8 L415.2,280.9 L424.1,279.8 L432.3,278.5 L439.7,277.1 L446.2,275.6 L451.6,274.0 L456.0,272.3 L459.1,270.6 L461.0,268.8 L461.5,267.1 Z" fill="#fff" stroke="#1c1c1c" stroke-width="1.1" />
<ellipse cx="385.8" cy="270.0" rx="75.8" ry="13.0" transform="rotate(-2.2 385.8 270)" fill="#fff" stroke="#1c1c1c" stroke-width="1.1" />
<path d="M459.3,269.9 L457.3,271.4 L454.4,272.8 L450.6,274.2 L445.9,275.6 L440.3,276.9 L434.1,278.1 L427.2,279.2 L419.7,280.2 L411.7,281.1 L403.4,281.8 L394.9,282.4 L386.3,282.8 L377.6,283.0 L369.1,283.1 L360.7,283.0 L352.8,282.8 L345.2,282.4 L338.2,281.8 L331.9,281.0 L326.3,280.2 L321.5,279.2 L317.5,278.1 L314.5,276.8 L312.5,275.5" fill="none" stroke="#1c1c1c" stroke-width="0.7" />
<ellipse cx="386.0" cy="269.6" rx="71.0" ry="10.8" transform="rotate(-2.2 386 269.6)" fill="#2e2e2e" stroke="#1c1c1c" stroke-width="1" />
<ellipse cx="386.1" cy="269.6" rx="67.3" ry="10.0" transform="rotate(-2.2 386.1 269.6)" fill="none" stroke="#ddd" stroke-width="1.2" stroke-dasharray="3.5 6"/>
<ellipse cx="386.3" cy="269.5" rx="63.5" ry="9.2" transform="rotate(-2.2 386.3 269.5)" fill="#fff" stroke="#1c1c1c" stroke-width="1.0" />
<path d="M453.2,275.0 L451.6,276.4 L449.1,277.8 L445.7,279.2 L441.5,280.5 L436.5,281.8 L430.7,283.0 L424.3,284.0 L417.4,285.0 L410.0,285.8 L402.3,286.5 L394.3,287.1 L386.2,287.5 L378.2,287.7 L370.2,287.8 L362.4,287.7 L355.0,287.4 L348.0,287.0 L341.6,286.4 L335.7,285.6 L330.6,284.8 L326.3,283.8 L322.8,282.7 L320.2,281.5 L318.6,280.2" fill="none" stroke="#1c1c1c" stroke-width="0.9" />
<ellipse cx="334.4" cy="302.5" rx="3.6" ry="5.6" transform="rotate(-8 334.4 302.5)" fill="#222" stroke="#1c1c1c" stroke-width="1" />
<text transform="translate(369.2 316.5) rotate(90) scale(0.65 1)" x="0" y="2.88" font-size="8" font-weight="bold" fill="#111" stroke="#111" stroke-width="0.55" text-anchor="middle">RECIR</text>
<path d="M331.4,384 L332.4,395 Q340,399.6 356,400.2 Q374,399.6 380.9,395 L381,384 Z" fill="#fff" stroke="#1c1c1c" stroke-width="1" />
<path d="M350,343.3 L429,340 L434.5,382.7 L357.8,386.8 Z" fill="#fff" stroke="#1c1c1c" stroke-width="0" />
<path d="M348,343.8 L431,341.6" fill="none" stroke="#1c1c1c" stroke-width="1.6" />
<path d="M357,386 L437,381" fill="none" stroke="#1c1c1c" stroke-width="1.6" />
<path d="M352,346 L429,344 M357.5,388 L444,382.2" fill="none" stroke="#777" stroke-width="0.7" />
<path d="M324.0,337.5 C324.9,337.3 327.3,336.1 329.6,336.2 C331.9,336.3 335.4,337.2 338.0,338.2 C340.6,339.2 342.4,340.0 345.4,342.2 C348.4,344.4 353.5,347.9 356.0,351.4 C358.5,354.9 360.4,359.3 360.6,363.3 C360.8,367.3 359.4,371.9 357.3,375.2 C355.2,378.5 350.8,381.4 348.1,383.1 C345.4,384.8 343.2,385.1 341.0,385.6 C338.8,386.2 335.9,386.3 334.9,386.4" fill="#fff" stroke="#1c1c1c" stroke-width="1" />
<ellipse cx="325.6" cy="362.0" rx="15.2" ry="24.6" transform="rotate(-6 325.6 362)" fill="#fff" stroke="#1c1c1c" stroke-width="1.1" />
<ellipse cx="325.2" cy="362.0" rx="13.6" ry="23.0" transform="rotate(-6 325.2 362)" fill="#3a3a3a" stroke="#1c1c1c" stroke-width="1" />
<ellipse cx="327.5" cy="362.4" rx="10.2" ry="21.4" transform="rotate(-6 327.5 362.4)" fill="#8a8a8a" stroke="#1c1c1c" stroke-width="0.8" />
<ellipse cx="329.3" cy="362.8" rx="8.6" ry="20.4" transform="rotate(-6 329.3 362.8)" fill="#333" stroke="#1c1c1c" stroke-width="0.6" />
<ellipse cx="326.4" cy="362.2" rx="11.6" ry="22.0" transform="rotate(-6 326.4 362.2)" fill="none" stroke="#bbb" stroke-width="1.3" stroke-dasharray="1.2 2.6"/>
<ellipse cx="330.2" cy="363.0" rx="7.6" ry="20.2" transform="rotate(-6 330.2 363)" fill="none" stroke="#ddd" stroke-width="1.0" stroke-dasharray="2 3"/>
<ellipse cx="331.6" cy="363.3" rx="6.6" ry="19.8" transform="rotate(-6 331.6 363.3)" fill="#fff" stroke="#1c1c1c" stroke-width="1" />
<path d="M327.6,338.5 L329.4,338.8 L331.2,339.4 L333.0,340.4 L334.7,341.6 L336.3,343.2 L337.8,345.0 L339.2,347.1 L340.4,349.4 L341.4,351.9 L342.3,354.6 L343.0,357.4 L343.4,360.2 L343.7,363.1 L343.7,365.9 L343.5,368.7 L343.2,371.5 L342.6,374.1 L341.8,376.5 L340.8,378.8 L339.7,380.8 L338.4,382.5 L336.9,384.0 L335.3,385.2 L333.7,386.0" fill="none" stroke="#1c1c1c" stroke-width="0.9" />
<text transform="translate(345.8 362.8) rotate(90) scale(1.3 1)" x="0" y="1.66" font-size="4.6" font-weight="bold" fill="#111" stroke="#111" stroke-width="0.55" text-anchor="middle">POOL</text>
<path d="M453.2,319.4 L454.1,319.8 L454.9,320.3 L455.8,320.8 L456.6,321.4 L457.4,322.1 L458.2,322.8 L458.9,323.5 L459.7,324.3 L460.4,325.2 L461.1,326.1 L461.7,327.0 L462.3,328.0 L462.9,329.0 L463.4,330.1 L464.0,331.2 L464.4,332.3 L464.9,333.4 L465.3,334.6 L465.6,335.8 L465.9,337.0 L466.2,338.3 L466.5,339.5 L466.7,340.8 L466.8,342.1" fill="none" stroke="#1c1c1c" stroke-width="0.9" />
<path d="M451.9,321.3 L452.8,321.7 L453.6,322.2 L454.4,322.7 L455.1,323.3 L455.9,323.9 L456.6,324.5 L457.3,325.3 L458.0,326.0 L458.6,326.8 L459.3,327.7 L459.9,328.6 L460.4,329.5 L461.0,330.5 L461.5,331.5 L462.0,332.5 L462.4,333.6 L462.8,334.7 L463.2,335.8 L463.5,336.9 L463.8,338.1 L464.1,339.3 L464.3,340.5 L464.5,341.7 L464.6,342.9" fill="none" stroke="#1c1c1c" stroke-width="0.9" />
<path d="M431.0,341.0 C430.4,342.2 428.4,345.2 427.6,348.0 C426.8,350.8 426.0,354.7 426.0,358.0 C426.0,361.3 426.7,364.7 427.6,368.0 C428.5,371.3 430.1,375.5 431.5,378.0 C432.9,380.5 435.2,382.2 436.0,383.0 L452,381 L455,333 Z" fill="#fff" stroke="#1c1c1c" stroke-width="1" />
<ellipse cx="452.3" cy="357.2" rx="19.4" ry="24.1" transform="rotate(5 452.3 357.2)" fill="#fff" stroke="#1c1c1c" stroke-width="1.1" />
<ellipse cx="451.5" cy="357.2" rx="17.4" ry="22.3" transform="rotate(5 451.5 357.2)" fill="#2b2b2b" stroke="#1c1c1c" stroke-width="1" />
<ellipse cx="449.8" cy="357.2" rx="14.6" ry="21.4" transform="rotate(5 449.8 357.2)" fill="none" stroke="#aaa" stroke-width="1.2" stroke-dasharray="1.2 3"/>
<ellipse cx="447.2" cy="357.3" rx="12.2" ry="20.4" transform="rotate(5 447.2 357.3)" fill="#fff" stroke="#1c1c1c" stroke-width="1.2" />
<path d="M441.9,378.4 L440.4,377.9 L439.0,377.1 L437.8,375.9 L436.6,374.5 L435.5,372.8 L434.6,370.9 L433.8,368.8 L433.2,366.5 L432.8,364.0 L432.6,361.5 L432.5,358.9 L432.6,356.2 L433.0,353.6 L433.5,351.1 L434.1,348.6 L435.0,346.2 L436.0,344.1 L437.1,342.1 L438.3,340.4 L439.7,338.9 L441.1,337.7 L442.6,336.8 L444.1,336.2 L445.6,336.0" fill="none" stroke="#1c1c1c" stroke-width="0.9" />
<text x="421.6" y="352.08" font-size="4.9" font-weight="bold" fill="#111" stroke="#111" stroke-width="0.5" text-anchor="middle">R</text>
<text x="421.6" y="356.48" font-size="4.9" font-weight="bold" fill="#111" stroke="#111" stroke-width="0.5" text-anchor="middle">E</text>
<text x="421.6" y="360.88" font-size="4.9" font-weight="bold" fill="#111" stroke="#111" stroke-width="0.5" text-anchor="middle">T</text>
<text x="421.6" y="365.28" font-size="4.9" font-weight="bold" fill="#111" stroke="#111" stroke-width="0.5" text-anchor="middle">U</text>
<text x="421.6" y="369.68" font-size="4.9" font-weight="bold" fill="#111" stroke="#111" stroke-width="0.5" text-anchor="middle">R</text>
<text x="421.6" y="374.08" font-size="4.9" font-weight="bold" fill="#111" stroke="#111" stroke-width="0.5" text-anchor="middle">N</text>
<path d="M399.0,291.1 C396.9,292.0 389.9,293.8 386.3,296.3 C382.7,298.8 379.4,302.8 377.4,306.0 C375.4,309.2 374.4,312.3 374.5,315.6 C374.6,318.9 376.2,322.9 378.2,326.0 C380.2,329.1 383.5,332.0 386.3,334.2 C389.1,336.4 392.4,338.4 395.2,339.4 C398.0,340.4 402.0,340.1 403.4,340.2 L429.4,340.2 L452,316 L432.4,294.1 Z" fill="#fff" stroke="#1c1c1c" stroke-width="1" />
<path d="M400.0,293.0 C398.0,293.8 391.4,295.5 388.0,297.8 C384.6,300.1 381.3,303.8 379.4,306.8 C377.5,309.8 376.6,312.5 376.7,315.6 C376.8,318.7 378.3,322.3 380.2,325.2 C382.1,328.1 385.2,330.7 387.8,332.8 C390.4,334.9 394.6,336.8 396.0,337.6" fill="none" stroke="#1c1c1c" stroke-width="0.8" />
<path d="M410.1,291.9 L432.4,294.1 M408.6,338.7 L429.4,340.2" fill="none" stroke="#1c1c1c" stroke-width="1" />
<path d="M403.4,292.6 L394.5,317.9 L403.4,338.7 L406.4,338.7 L398.2,318.6 L407.1,294.1 Z" fill="#fff" stroke="#1c1c1c" stroke-width="1.3" />
<path d="M407.1,294.1 L409.4,294.9 Q404,309 404.9,318 Q405.5,328 407.9,337.9 L406.4,338.7" fill="#fff" stroke="#1c1c1c" stroke-width="0.9" />
<path d="M399,287.4 L399,291 L410.8,292.4 L410.8,288" fill="#fff" stroke="#1c1c1c" stroke-width="1" />
<path d="M403.5,287.8 L403.6,291.6 M406.5,288 L406.6,292" fill="none" stroke="#1c1c1c" stroke-width="0.9" />
<ellipse cx="433.4" cy="317.1" rx="18.2" ry="23.0" transform="rotate(-4 433.4 317.1)" fill="#fff" stroke="#1c1c1c" stroke-width="1.4" />
<ellipse cx="433.2" cy="317.2" rx="16.3" ry="21.2" transform="rotate(-4 433.2 317.2)" fill="#fff" stroke="#1c1c1c" stroke-width="1.0" />
<path d="M426.7,299.4 L427.6,299.8 L428.5,300.5 L429.4,301.4 L430.2,302.5 L431.0,303.9 L431.7,305.4 L432.4,307.1 L433.0,308.9 L433.4,310.8 L433.8,312.9 L434.1,314.9 L434.2,317.0 L434.3,319.1 L434.2,321.2 L434.1,323.2 L433.8,325.1 L433.4,326.9 L432.9,328.6 L432.4,330.0 L431.7,331.3 L431.0,332.4 L430.2,333.3 L429.4,333.9 L428.5,334.2" fill="none" stroke="#1c1c1c" stroke-width="1" />
<path d="M428.0,335.0 L426.9,334.8 L425.8,334.3 L424.8,333.5 L423.8,332.5 L422.9,331.3 L422.0,329.8 L421.2,328.2 L420.5,326.4 L419.9,324.4 L419.5,322.4 L419.1,320.3 L418.9,318.1 L418.8,315.9 L418.9,313.8 L419.1,311.7 L419.4,309.7 L419.8,307.8 L420.3,306.1 L421.0,304.5 L421.8,303.2 L422.6,302.0 L423.5,301.1 L424.5,300.5 L425.5,300.1" fill="none" stroke="#1c1c1c" stroke-width="0.9" />
<path d="M190,352.8 L201,352.6 Q208,353.4 212.9,355.6 L221.5,395.2 Q211,401 203,403.6 L194,405.4 Z" fill="#fff" stroke="#1c1c1c" stroke-width="0" />
<path d="M190,352.8 L201,352.6 Q208,353.4 212.9,355.6 M221.5,395.2 Q211,401 203,403.6 L194,405.4" fill="none" stroke="#1c1c1c" stroke-width="1" />
<ellipse cx="192.6" cy="379.4" rx="12.2" ry="26.4" transform="rotate(-4 192.6 379.4)" fill="#fff" stroke="#1c1c1c" stroke-width="1" />
<ellipse cx="191.8" cy="379.5" rx="11.0" ry="25.0" transform="rotate(-4 191.8 379.5)" fill="#3a3a3a" stroke="#1c1c1c" stroke-width="0.9" />
<ellipse cx="189.6" cy="379.7" rx="8.8" ry="22.6" transform="rotate(-4 189.6 379.7)" fill="none" stroke="#ccc" stroke-width="2.2" stroke-dasharray="1.6 2.4"/>
<ellipse cx="184.2" cy="380.0" rx="10.0" ry="21.6" transform="rotate(-4 184.2 380)" fill="#fff" stroke="#1c1c1c" stroke-width="0.9" />
<path d="M261.5,345.5 L287,341.4 L289.5,386.4 L263.1,390.9 Z" fill="#fff" stroke="#1c1c1c" stroke-width="0" />
<path d="M261.5,345.5 L287,341.4 M263.1,390.9 L289.5,386.4" fill="none" stroke="#1c1c1c" stroke-width="1" />
<ellipse cx="262.3" cy="368.2" rx="13.2" ry="22.8" transform="rotate(-4 262.3 368.2)" fill="#fff" stroke="#1c1c1c" stroke-width="1.1" />
<ellipse cx="262.8" cy="368.3" rx="11.6" ry="21.0" transform="rotate(-4 262.8 368.3)" fill="#fff" stroke="#1c1c1c" stroke-width="0.9" />
<path d="M269.7,352.8 L270.6,353.9 L271.4,355.1 L272.2,356.6 L272.9,358.2 L273.5,359.9 L274.0,361.8 L274.5,363.7 L274.8,365.7 L275.0,367.8 L275.2,369.9 L275.2,371.9 L275.1,373.9 L274.9,375.9 L274.5,377.8 L274.1,379.5 L273.6,381.2 L273.0,382.6 L272.3,383.9 L271.6,385.0 L270.8,385.9 L269.9,386.6 L269.0,387.1 L268.0,387.3 L267.0,387.3" fill="none" stroke="#1c1c1c" stroke-width="0.8" />
<path d="M274.3,356.7 L274.8,357.8 L275.2,358.9 L275.6,360.0 L276.0,361.2 L276.3,362.4 L276.6,363.7 L276.8,365.0 L277.0,366.3 L277.1,367.6 L277.2,368.9 L277.3,370.3 L277.3,371.6 L277.2,372.9 L277.1,374.2 L277.0,375.5 L276.8,376.7 L276.6,377.9 L276.4,379.0 L276.1,380.1 L275.7,381.2 L275.3,382.1 L274.9,383.0 L274.5,383.9 L274.0,384.6" fill="none" stroke="#1c1c1c" stroke-width="0.7" />
<path d="M289.5,343 Q300,344.5 304.6,353 Q307.5,362 305,372 Q301.5,380 294.5,382.8 L298.6,362.9 Z" fill="#2a2a2a" stroke="#1c1c1c" stroke-width="1" />
<path d="M284.6,342.2 L287.9,342.2 L298.6,362.9 L292.8,384.3 L289.5,386.8 L295.3,363.6 Z" fill="#fff" stroke="#1c1c1c" stroke-width="1.1" />
<path d="M284.6,342.2 L295.3,363.6 L289.5,386.8" fill="none" stroke="#1c1c1c" stroke-width="0.9" />
<path d="M295.3,363.6 L298.6,362.9" fill="none" stroke="#1c1c1c" stroke-width="0.9" />
<path d="M213.7,355.6 L242.5,350.5 C243.8,351.1 247.8,352.1 250.0,354.0 C252.2,355.9 254.5,359.0 256.0,362.0 C257.5,365.0 258.6,368.8 259.0,372.0 C259.4,375.2 259.3,378.1 258.6,381.0 C257.9,383.9 255.5,387.8 254.9,389.2 L221.9,395.1 Z" fill="#fff" stroke="#1c1c1c" stroke-width="0" />
<path d="M213.7,355.6 L242.5,350.5 C243.8,351.1 247.8,352.1 250.0,354.0 C252.2,355.9 254.5,359.0 256.0,362.0 C257.5,365.0 258.6,368.8 259.0,372.0 C259.4,375.2 259.3,378.1 258.6,381.0 C257.9,383.9 255.5,387.8 254.9,389.2 L221.9,395.1" fill="none" stroke="#1c1c1c" stroke-width="1" />
<path d="M212.9,355.6 C213.9,356.7 217.4,359.1 219.0,362.0 C220.6,364.9 222.0,369.0 222.6,373.0 C223.2,377.0 223.0,382.2 222.5,386.0 C222.0,389.8 220.0,394.0 219.5,395.6" fill="none" stroke="#1c1c1c" stroke-width="1" />
<path d="M209.5,354.4 C210.5,355.5 213.9,357.9 215.6,361.0 C217.2,364.1 218.7,368.8 219.4,373.0 C220.1,377.2 220.1,381.9 219.6,386.0 C219.1,390.1 217.0,395.7 216.5,397.6" fill="none" stroke="#1c1c1c" stroke-width="0.8" />
<path d="M324.7,359.1 L324.8,362.0 L324.7,364.8 L324.4,367.6 L323.9,370.2 L323.2,372.7 L322.4,374.9 L321.3,376.9 L320.1,378.6 L318.7,380.0 L317.3,381.1 L315.7,381.8 L314.1,382.1 L312.5,382.1 L310.8,381.7 L309.2,380.9 L307.6,379.7 L306.1,378.3 L304.8,376.5 L303.5,374.4 L302.4,372.1 L301.4,369.6 L300.7,366.9 L300.1,364.1 L299.7,361.3 L299.6,358.4 L299.7,355.6 L300.0,352.8 L300.5,350.2 L301.2,347.7 L302.0,345.5 L303.1,343.5 L304.3,341.8 L305.7,340.4 L307.1,339.3 L308.7,338.6 L310.3,338.3 L311.9,338.3 L313.6,338.7 L315.2,339.5 L316.8,340.7 L318.3,342.1 L319.6,343.9 L320.9,346.0 L322.0,348.3 L323.0,350.8 L323.7,353.5 L324.3,356.3 L324.7,359.1 Z M323.0,359.3 L323.1,361.9 L323.1,364.5 L322.8,367.1 L322.4,369.5 L321.8,371.8 L321.1,373.8 L320.2,375.7 L319.1,377.2 L318.0,378.5 L316.7,379.5 L315.4,380.1 L314.0,380.4 L312.5,380.4 L311.1,380.0 L309.7,379.2 L308.4,378.2 L307.1,376.8 L305.8,375.2 L304.7,373.3 L303.8,371.1 L302.9,368.8 L302.3,366.3 L301.8,363.8 L301.4,361.1 L301.3,358.5 L301.3,355.9 L301.6,353.3 L302.0,350.9 L302.6,348.6 L303.3,346.6 L304.2,344.7 L305.3,343.2 L306.4,341.9 L307.7,340.9 L309.0,340.3 L310.4,340.0 L311.9,340.0 L313.3,340.4 L314.7,341.2 L316.0,342.2 L317.3,343.6 L318.6,345.2 L319.7,347.1 L320.6,349.3 L321.5,351.6 L322.1,354.1 L322.6,356.6 L323.0,359.3 Z" fill="#fff" stroke="#1c1c1c" stroke-width="1.15" fill-rule="evenodd"/>
<ellipse cx="168.0" cy="384.0" rx="22.5" ry="39.5" transform="rotate(-4.2 168 384.0)" fill="#fff" stroke="#1c1c1c" stroke-width="1.1" />
<ellipse cx="161.0" cy="384.3" rx="22.5" ry="38.0" transform="rotate(-4.2 161 384.3)" fill="#fff" stroke="#1c1c1c" stroke-width="1.15" />
<ellipse cx="161.0" cy="384.3" rx="21.3" ry="36.7" transform="rotate(-4.2 161 384.3)" fill="none" stroke="#1c1c1c" stroke-width="0.8" />
<ellipse cx="161.6" cy="384.5" rx="15.4" ry="27.2" transform="rotate(-4.2 161.6 384.5)" fill="none" stroke="#1c1c1c" stroke-width="0.9" />
<ellipse cx="179.7" cy="387.5" rx="2.4" ry="3.3" transform="rotate(98.0 179.698388772985 387.5004835159367)" fill="#fff" stroke="#1c1c1c" stroke-width="1.1" />
<rect x="179.5" y="393.0" width="2.3" height="2.7" fill="#fff" stroke="#1c1c1c" stroke-width="1.1" transform="rotate(15 180.7 394.3)"/>
<rect x="176.8" y="391.6" width="2.3" height="2.7" fill="#fff" stroke="#1c1c1c" stroke-width="1.1" transform="rotate(15 177.9 392.9)"/>
<rect x="178.4" y="399.2" width="2.3" height="2.7" fill="#fff" stroke="#1c1c1c" stroke-width="1.1" transform="rotate(26 179.5 400.5)"/>
<rect x="175.8" y="396.9" width="2.3" height="2.7" fill="#fff" stroke="#1c1c1c" stroke-width="1.1" transform="rotate(26 176.9 398.3)"/>
<rect x="176.5" y="404.8" width="2.3" height="2.7" fill="#fff" stroke="#1c1c1c" stroke-width="1.1" transform="rotate(38 177.6 406.1)"/>
<rect x="174.2" y="401.7" width="2.3" height="2.7" fill="#fff" stroke="#1c1c1c" stroke-width="1.1" transform="rotate(38 175.3 403.1)"/>
<ellipse cx="174.1" cy="409.0" rx="2.4" ry="3.3" transform="rotate(143.0 174.14948961905625 409.0014671170534)" fill="#fff" stroke="#1c1c1c" stroke-width="1.1" />
<rect x="170.9" y="413.2" width="2.3" height="2.7" fill="#fff" stroke="#1c1c1c" stroke-width="1.1" transform="rotate(60 172.1 414.6)"/>
<rect x="169.4" y="409.0" width="2.3" height="2.7" fill="#fff" stroke="#1c1c1c" stroke-width="1.1" transform="rotate(60 170.6 410.4)"/>
<rect x="167.5" y="415.8" width="2.3" height="2.7" fill="#fff" stroke="#1c1c1c" stroke-width="1.1" transform="rotate(71 168.7 417.2)"/>
<rect x="166.5" y="411.2" width="2.3" height="2.7" fill="#fff" stroke="#1c1c1c" stroke-width="1.1" transform="rotate(71 167.6 412.6)"/>
<rect x="163.8" y="417.1" width="2.3" height="2.7" fill="#fff" stroke="#1c1c1c" stroke-width="1.1" transform="rotate(83 164.9 418.5)"/>
<rect x="163.3" y="412.4" width="2.3" height="2.7" fill="#fff" stroke="#1c1c1c" stroke-width="1.1" transform="rotate(83 164.4 413.7)"/>
<ellipse cx="161.1" cy="416.1" rx="2.4" ry="3.3" transform="rotate(188.0 161.07353371585666 416.09124493527594)" fill="#fff" stroke="#1c1c1c" stroke-width="1.1" />
<rect x="156.0" y="415.8" width="2.3" height="2.7" fill="#fff" stroke="#1c1c1c" stroke-width="1.1" transform="rotate(105 157.2 417.2)"/>
<rect x="156.6" y="411.2" width="2.3" height="2.7" fill="#fff" stroke="#1c1c1c" stroke-width="1.1" transform="rotate(105 157.8 412.6)"/>
<rect x="152.3" y="413.3" width="2.3" height="2.7" fill="#fff" stroke="#1c1c1c" stroke-width="1.1" transform="rotate(116 153.5 414.6)"/>
<rect x="153.5" y="409.0" width="2.3" height="2.7" fill="#fff" stroke="#1c1c1c" stroke-width="1.1" transform="rotate(116 154.6 410.4)"/>
<rect x="148.9" y="409.5" width="2.3" height="2.7" fill="#fff" stroke="#1c1c1c" stroke-width="1.1" transform="rotate(128 150.1 410.9)"/>
<rect x="150.5" y="405.8" width="2.3" height="2.7" fill="#fff" stroke="#1c1c1c" stroke-width="1.1" transform="rotate(128 151.7 407.2)"/>
<ellipse cx="148.1" cy="404.6" rx="2.4" ry="3.3" transform="rotate(233.0 148.130238690488 404.61672127890154)" fill="#fff" stroke="#1c1c1c" stroke-width="1.1" />
<rect x="143.5" y="399.2" width="2.3" height="2.7" fill="#fff" stroke="#1c1c1c" stroke-width="1.1" transform="rotate(150 144.7 400.6)"/>
<rect x="145.9" y="396.9" width="2.3" height="2.7" fill="#fff" stroke="#1c1c1c" stroke-width="1.1" transform="rotate(150 147.1 398.3)"/>
<rect x="141.8" y="393.0" width="2.3" height="2.7" fill="#fff" stroke="#1c1c1c" stroke-width="1.1" transform="rotate(161 142.9 394.4)"/>
<rect x="144.4" y="391.6" width="2.3" height="2.7" fill="#fff" stroke="#1c1c1c" stroke-width="1.1" transform="rotate(161 145.5 393.0)"/>
<rect x="140.7" y="386.4" width="2.3" height="2.7" fill="#fff" stroke="#1c1c1c" stroke-width="1.1" transform="rotate(173 141.8 387.8)"/>
<rect x="143.4" y="386.0" width="2.3" height="2.7" fill="#fff" stroke="#1c1c1c" stroke-width="1.1" transform="rotate(173 144.6 387.3)"/>
<ellipse cx="142.9" cy="381.3" rx="2.4" ry="3.3" transform="rotate(278.0 142.90161122701502 381.29951648406336)" fill="#fff" stroke="#1c1c1c" stroke-width="1.1" />
<rect x="140.8" y="373.1" width="2.3" height="2.7" fill="#fff" stroke="#1c1c1c" stroke-width="1.1" transform="rotate(195 141.9 374.5)"/>
<rect x="143.5" y="374.5" width="2.3" height="2.7" fill="#fff" stroke="#1c1c1c" stroke-width="1.1" transform="rotate(195 144.7 375.9)"/>
<rect x="141.9" y="366.9" width="2.3" height="2.7" fill="#fff" stroke="#1c1c1c" stroke-width="1.1" transform="rotate(206 143.1 368.3)"/>
<rect x="144.5" y="369.2" width="2.3" height="2.7" fill="#fff" stroke="#1c1c1c" stroke-width="1.1" transform="rotate(206 145.7 370.5)"/>
<rect x="143.8" y="361.3" width="2.3" height="2.7" fill="#fff" stroke="#1c1c1c" stroke-width="1.1" transform="rotate(218 145.0 362.7)"/>
<rect x="146.1" y="364.4" width="2.3" height="2.7" fill="#fff" stroke="#1c1c1c" stroke-width="1.1" transform="rotate(218 147.3 365.7)"/>
<ellipse cx="148.5" cy="359.8" rx="2.4" ry="3.3" transform="rotate(323.0 148.45051038094377 359.7985328829467)" fill="#fff" stroke="#1c1c1c" stroke-width="1.1" />
<rect x="149.4" y="352.9" width="2.3" height="2.7" fill="#fff" stroke="#1c1c1c" stroke-width="1.1" transform="rotate(240 150.5 354.2)"/>
<rect x="150.9" y="357.1" width="2.3" height="2.7" fill="#fff" stroke="#1c1c1c" stroke-width="1.1" transform="rotate(240 152.0 358.4)"/>
<rect x="152.8" y="350.3" width="2.3" height="2.7" fill="#fff" stroke="#1c1c1c" stroke-width="1.1" transform="rotate(251 153.9 351.6)"/>
<rect x="153.8" y="354.9" width="2.3" height="2.7" fill="#fff" stroke="#1c1c1c" stroke-width="1.1" transform="rotate(251 155.0 356.2)"/>
<rect x="156.5" y="349.0" width="2.3" height="2.7" fill="#fff" stroke="#1c1c1c" stroke-width="1.1" transform="rotate(263 157.7 350.3)"/>
<rect x="157.0" y="353.7" width="2.3" height="2.7" fill="#fff" stroke="#1c1c1c" stroke-width="1.1" transform="rotate(263 158.2 355.1)"/>
<ellipse cx="161.5" cy="352.7" rx="2.4" ry="3.3" transform="rotate(368.0 161.52646628414337 352.70875506472413)" fill="#fff" stroke="#1c1c1c" stroke-width="1.1" />
<rect x="164.3" y="350.3" width="2.3" height="2.7" fill="#fff" stroke="#1c1c1c" stroke-width="1.1" transform="rotate(285 165.4 351.6)"/>
<rect x="163.7" y="354.9" width="2.3" height="2.7" fill="#fff" stroke="#1c1c1c" stroke-width="1.1" transform="rotate(285 164.8 356.2)"/>
<rect x="168.0" y="352.8" width="2.3" height="2.7" fill="#fff" stroke="#1c1c1c" stroke-width="1.1" transform="rotate(296 169.1 354.2)"/>
<rect x="166.8" y="357.1" width="2.3" height="2.7" fill="#fff" stroke="#1c1c1c" stroke-width="1.1" transform="rotate(296 168.0 358.4)"/>
<rect x="171.4" y="356.6" width="2.3" height="2.7" fill="#fff" stroke="#1c1c1c" stroke-width="1.1" transform="rotate(308 172.5 357.9)"/>
<rect x="169.8" y="360.3" width="2.3" height="2.7" fill="#fff" stroke="#1c1c1c" stroke-width="1.1" transform="rotate(308 170.9 361.6)"/>
<ellipse cx="174.5" cy="364.2" rx="2.4" ry="3.3" transform="rotate(413.0 174.46976130951202 364.18327872109853)" fill="#fff" stroke="#1c1c1c" stroke-width="1.1" />
<rect x="176.8" y="366.9" width="2.3" height="2.7" fill="#fff" stroke="#1c1c1c" stroke-width="1.1" transform="rotate(330 177.9 368.2)"/>
<rect x="174.4" y="369.2" width="2.3" height="2.7" fill="#fff" stroke="#1c1c1c" stroke-width="1.1" transform="rotate(330 175.5 370.5)"/>
<rect x="178.5" y="373.1" width="2.3" height="2.7" fill="#fff" stroke="#1c1c1c" stroke-width="1.1" transform="rotate(341 179.7 374.4)"/>
<rect x="175.9" y="374.5" width="2.3" height="2.7" fill="#fff" stroke="#1c1c1c" stroke-width="1.1" transform="rotate(341 177.1 375.8)"/>
<rect x="179.6" y="379.7" width="2.3" height="2.7" fill="#fff" stroke="#1c1c1c" stroke-width="1.1" transform="rotate(353 180.8 381.0)"/>
<rect x="176.9" y="380.1" width="2.3" height="2.7" fill="#fff" stroke="#1c1c1c" stroke-width="1.1" transform="rotate(353 178.0 381.5)"/>
<ellipse cx="162.3" cy="384.3" rx="12.2" ry="24.4" transform="rotate(-4.2 162.3 384.3)" fill="#3a3a3a" stroke="#1c1c1c" stroke-width="1.1" />
<ellipse cx="163.7" cy="384.3" rx="9.5" ry="21.5" transform="rotate(-4.2 163.70000000000002 384.3)" fill="none" stroke="#888" stroke-width="1.2" stroke-dasharray="1 3"/>
<path d="M169.6,383.9 L169.7,387.5 L169.6,391.0 L169.3,394.3 L168.7,397.4 L168.0,400.2 L167.0,402.6 L165.8,404.5 L164.5,406.0 L163.1,406.9 L161.7,407.3 L160.2,407.2 L158.6,406.4 L157.1,405.2 L155.7,403.4 L154.4,401.2 L153.2,398.5 L152.2,395.5 L151.4,392.3 L150.8,388.9 L150.4,385.3 L150.3,381.7 L150.4,378.2 L150.7,374.9 L151.3,371.8 L152.0,369.0 L153.0,366.6 L154.2,364.7 L155.5,363.2 L156.9,362.3 L158.3,361.9 L159.8,362.0 L161.4,362.8 L162.9,364.0 L164.3,365.8 L165.6,368.0 L166.8,370.7 L167.8,373.7 L168.6,376.9 L169.2,380.3 L169.6,383.9 Z" fill="#fff" stroke="#1c1c1c" stroke-width="0.9" />
<path d="M163.0,408.6 L161.5,408.3 L160.0,407.6 L158.5,406.5 L157.1,405.1 L155.8,403.4 L154.5,401.4 L153.4,399.1 L152.4,396.6 L151.6,394.0 L150.9,391.1 L150.4,388.2 L150.1,385.2 L150.0,382.2 L150.1,379.2 L150.3,376.3 L150.7,373.5 L151.3,370.9 L152.1,368.5 L153.1,366.4 L154.1,364.5 L155.3,362.9 L156.6,361.6 L158.0,360.7 L159.5,360.1" fill="none" stroke="#1c1c1c" stroke-width="1.1" />
<path d="M161.4,406.7 L160.3,405.7 L159.2,404.6 L158.2,403.2 L157.3,401.6 L156.4,400.0 L155.6,398.1 L154.9,396.2 L154.3,394.1 L153.7,392.0 L153.3,389.8 L153.0,387.5 L152.7,385.2 L152.6,382.9 L152.6,380.6 L152.7,378.3 L152.9,376.1 L153.3,374.0 L153.7,372.0 L154.2,370.1 L154.8,368.3 L155.5,366.6 L156.3,365.1 L157.2,363.8 L158.1,362.6" fill="none" stroke="#1c1c1c" stroke-width="0.9" />
<ellipse cx="162.3" cy="384.3" rx="12.2" ry="24.4" transform="rotate(-4.2 162.3 384.3)" fill="none" stroke="#1c1c1c" stroke-width="1.1" />
<path d="M96.4,389.5 C96.6,384.8 96.8,378.9 98.5,374.0 C100.2,369.1 103.5,363.6 106.3,360.4 C109.0,357.1 112.1,355.9 115.0,354.5 C117.9,353.1 121.9,353.4 123.6,352.2 C125.3,351.0 124.2,348.6 125.0,347.5 C125.8,346.4 127.2,345.4 128.5,345.3 C129.8,345.2 131.5,345.5 132.7,346.8 C133.8,348.1 135.6,351.1 135.4,353.2 C135.2,355.3 131.2,356.5 131.5,359.5 C131.8,362.5 135.5,367.7 137.2,371.3 C138.9,374.9 140.4,377.7 141.5,381.0 C142.6,384.3 143.3,386.9 143.5,391.3 C143.7,395.7 143.9,402.5 142.6,407.6 C141.2,412.7 138.2,418.9 135.4,422.1 C132.6,425.3 128.9,425.9 126.0,427.0 C123.1,428.1 119.3,427.5 117.8,428.5 C116.3,429.5 117.7,431.9 117.0,433.2 C116.3,434.5 114.8,435.9 113.5,436.2 C112.2,436.5 110.6,436.2 109.5,435.2 C108.4,434.2 107.0,431.9 107.0,430.3 C107.0,428.7 110.5,428.1 109.5,425.5 C108.5,422.9 102.9,418.8 100.9,414.9 C98.9,411.0 98.0,406.4 97.3,402.2 C96.5,398.0 96.2,394.2 96.4,389.5 Z" fill="#fff" stroke="#1c1c1c" stroke-width="1.15" />
<ellipse cx="120.9" cy="389.3" rx="11.9" ry="19.0" transform="rotate(-3 120.9 389.3)" fill="#fff" stroke="#1c1c1c" stroke-width="1" />
<ellipse cx="111.8" cy="360.4" rx="1.6" ry="2.9" transform="rotate(-5 111.8 360.4)" fill="#fff" stroke="#1c1c1c" stroke-width="0.9" />
<ellipse cx="127.2" cy="363.1" rx="1.6" ry="2.9" transform="rotate(-5 127.2 363.1)" fill="#fff" stroke="#1c1c1c" stroke-width="0.9" />
<ellipse cx="101.8" cy="374.0" rx="1.6" ry="2.9" transform="rotate(-5 101.8 374)" fill="#fff" stroke="#1c1c1c" stroke-width="0.9" />
<ellipse cx="138.1" cy="383.1" rx="1.6" ry="2.9" transform="rotate(-5 138.1 383.1)" fill="#fff" stroke="#1c1c1c" stroke-width="0.9" />
<ellipse cx="101.8" cy="399.4" rx="1.6" ry="2.9" transform="rotate(-5 101.8 399.4)" fill="#fff" stroke="#1c1c1c" stroke-width="0.9" />
<ellipse cx="139.0" cy="406.7" rx="1.6" ry="2.9" transform="rotate(-5 139 406.7)" fill="#fff" stroke="#1c1c1c" stroke-width="0.9" />
<ellipse cx="113.6" cy="418.5" rx="1.6" ry="2.9" transform="rotate(-5 113.6 418.5)" fill="#fff" stroke="#1c1c1c" stroke-width="0.9" />
<ellipse cx="129.0" cy="421.2" rx="1.6" ry="2.9" transform="rotate(-5 129 421.2)" fill="#fff" stroke="#1c1c1c" stroke-width="0.9" />
<path d="M63.7,369.1 L92.6,363.5 L92.1,360.7 L63.2,366.2 Z" fill="#fff" stroke="#1c1c1c" stroke-width="1.0" />
<path d="M86.4,366.2 L91.1,365.3 L90.0,359.6 L85.3,360.5 Z" fill="#fff" stroke="#1c1c1c" stroke-width="1.2" />
<line x1="86.0" y1="364.3" x2="90.7" y2="363.4" stroke="#1c1c1c" stroke-width="0.8"/>
<line x1="85.7" y1="362.4" x2="90.4" y2="361.5" stroke="#1c1c1c" stroke-width="0.8"/>
<ellipse cx="62.1" cy="367.9" rx="2.2" ry="4.3" transform="rotate(-10.83181467497468 62.07149288307839 367.899317246198)" fill="#fff" stroke="#1c1c1c" stroke-width="1.2" />
<ellipse cx="60.5" cy="368.2" rx="3.1" ry="4.2" transform="rotate(-10.83181467497468 60.5 368.2)" fill="#fff" stroke="#1c1c1c" stroke-width="1.4" />
<ellipse cx="60.2" cy="368.3" rx="2.0" ry="2.8" transform="rotate(-10.83181467497468 60.2053450844228 368.25637801633786)" fill="#333" stroke="#1c1c1c" stroke-width="1.0" />
<ellipse cx="60.0" cy="368.3" rx="0.8" ry="1.2" transform="rotate(-10.83181467497468 60.008908474038 368.2939633605631)" fill="#ccc" stroke="#1c1c1c" stroke-width="0" />
<path d="M78.8,371.8 L108.4,367.0 L107.9,364.1 L78.3,368.9 Z" fill="#fff" stroke="#1c1c1c" stroke-width="1.0" />
<path d="M102.1,369.4 L106.8,368.7 L105.9,363.0 L101.2,363.7 Z" fill="#fff" stroke="#1c1c1c" stroke-width="1.2" />
<line x1="101.8" y1="367.6" x2="106.5" y2="366.8" stroke="#1c1c1c" stroke-width="0.8"/>
<line x1="101.5" y1="365.6" x2="106.2" y2="364.8" stroke="#1c1c1c" stroke-width="0.8"/>
<ellipse cx="77.2" cy="370.5" rx="2.2" ry="4.3" transform="rotate(-9.200400469070386 77.17941623609391 370.544179060351)" fill="#fff" stroke="#1c1c1c" stroke-width="1.2" />
<ellipse cx="75.6" cy="370.8" rx="3.1" ry="4.2" transform="rotate(-9.200400469070386 75.6 370.8)" fill="#fff" stroke="#1c1c1c" stroke-width="1.4" />
<ellipse cx="75.3" cy="370.8" rx="2.0" ry="2.8" transform="rotate(-9.200400469070386 75.30385945573238 370.8479664261842)" fill="#333" stroke="#1c1c1c" stroke-width="1.0" />
<ellipse cx="75.1" cy="370.9" rx="0.8" ry="1.2" transform="rotate(-9.200400469070386 75.10643242622065 370.8799440436403)" fill="#ccc" stroke="#1c1c1c" stroke-width="0" />
<path d="M53.1,384.4 L82.7,380.3 L82.3,377.4 L52.7,381.5 Z" fill="#fff" stroke="#1c1c1c" stroke-width="1.0" />
<path d="M76.3,382.6 L81.1,381.9 L80.3,376.2 L75.5,376.9 Z" fill="#fff" stroke="#1c1c1c" stroke-width="1.2" />
<line x1="76.1" y1="380.7" x2="80.8" y2="380.1" stroke="#1c1c1c" stroke-width="0.8"/>
<line x1="75.8" y1="378.7" x2="80.5" y2="378.1" stroke="#1c1c1c" stroke-width="0.8"/>
<ellipse cx="51.5" cy="383.2" rx="2.2" ry="4.3" transform="rotate(-8.01709307365533 51.48436240816934 383.17685036504656)" fill="#fff" stroke="#1c1c1c" stroke-width="1.2" />
<ellipse cx="49.9" cy="383.4" rx="3.1" ry="4.2" transform="rotate(-8.01709307365533 49.9 383.4)" fill="#fff" stroke="#1c1c1c" stroke-width="1.4" />
<ellipse cx="49.6" cy="383.4" rx="2.0" ry="2.8" transform="rotate(-8.01709307365533 49.60293204846825 383.44184055655376)" fill="#333" stroke="#1c1c1c" stroke-width="1.0" />
<ellipse cx="49.4" cy="383.5" rx="0.8" ry="1.2" transform="rotate(-8.01709307365533 49.40488674744708 383.4697342609229)" fill="#ccc" stroke="#1c1c1c" stroke-width="0" />
<path d="M90.1,391.0 L119.6,386.8 L119.2,384.0 L89.7,388.1 Z" fill="#fff" stroke="#1c1c1c" stroke-width="1.0" />
<path d="M113.2,389.2 L118.0,388.5 L117.2,382.8 L112.4,383.5 Z" fill="#fff" stroke="#1c1c1c" stroke-width="1.2" />
<line x1="113.0" y1="387.3" x2="117.7" y2="386.7" stroke="#1c1c1c" stroke-width="0.8"/>
<line x1="112.7" y1="385.3" x2="117.4" y2="384.7" stroke="#1c1c1c" stroke-width="0.8"/>
<ellipse cx="88.5" cy="389.8" rx="2.2" ry="4.3" transform="rotate(-8.04505177905005 88.48425332888853 389.77607726800164)" fill="#fff" stroke="#1c1c1c" stroke-width="1.2" />
<ellipse cx="86.9" cy="390.0" rx="3.1" ry="4.2" transform="rotate(-8.04505177905005 86.9 390)" fill="#fff" stroke="#1c1c1c" stroke-width="1.4" />
<ellipse cx="86.6" cy="390.0" rx="2.0" ry="2.8" transform="rotate(-8.04505177905005 86.60295250083341 390.0419855122497)" fill="#333" stroke="#1c1c1c" stroke-width="1.0" />
<ellipse cx="86.4" cy="390.1" rx="0.8" ry="1.2" transform="rotate(-8.04505177905005 86.40492083472235 390.0699758537495)" fill="#ccc" stroke="#1c1c1c" stroke-width="0" />
<path d="M53.8,409.4 L83.3,404.5 L82.8,401.7 L53.3,406.6 Z" fill="#fff" stroke="#1c1c1c" stroke-width="1.0" />
<path d="M77.0,407.1 L81.7,406.3 L80.8,400.5 L76.1,401.3 Z" fill="#fff" stroke="#1c1c1c" stroke-width="1.2" />
<line x1="76.7" y1="405.2" x2="81.4" y2="404.4" stroke="#1c1c1c" stroke-width="0.8"/>
<line x1="76.4" y1="403.2" x2="81.1" y2="402.4" stroke="#1c1c1c" stroke-width="0.8"/>
<ellipse cx="52.2" cy="408.2" rx="2.2" ry="4.3" transform="rotate(-9.42948795401928 52.17838075728423 408.23786609331324)" fill="#fff" stroke="#1c1c1c" stroke-width="1.2" />
<ellipse cx="50.6" cy="408.5" rx="3.1" ry="4.2" transform="rotate(-9.42948795401928 50.6 408.5)" fill="#fff" stroke="#1c1c1c" stroke-width="1.4" />
<ellipse cx="50.3" cy="408.5" rx="2.0" ry="2.8" transform="rotate(-9.42948795401928 50.30405360800921 408.54915010750375)" fill="#333" stroke="#1c1c1c" stroke-width="1.0" />
<ellipse cx="50.1" cy="408.6" rx="0.8" ry="1.2" transform="rotate(-9.42948795401928 50.10675601334868 408.5819168458396)" fill="#ccc" stroke="#1c1c1c" stroke-width="0" />
<path d="M90.7,416.1 L121.0,411.2 L120.5,408.3 L90.2,413.2 Z" fill="#fff" stroke="#1c1c1c" stroke-width="1.0" />
<path d="M114.7,413.6 L119.4,412.9 L118.5,407.2 L113.8,407.9 Z" fill="#fff" stroke="#1c1c1c" stroke-width="1.2" />
<line x1="114.4" y1="411.8" x2="119.1" y2="411.0" stroke="#1c1c1c" stroke-width="0.8"/>
<line x1="114.1" y1="409.8" x2="118.8" y2="409.0" stroke="#1c1c1c" stroke-width="0.8"/>
<ellipse cx="89.1" cy="414.8" rx="2.2" ry="4.3" transform="rotate(-9.17472729175062 89.0795307061585 414.8448867931634)" fill="#fff" stroke="#1c1c1c" stroke-width="1.2" />
<ellipse cx="87.5" cy="415.1" rx="3.1" ry="4.2" transform="rotate(-9.17472729175062 87.5 415.1)" fill="#fff" stroke="#1c1c1c" stroke-width="1.4" />
<ellipse cx="87.2" cy="415.1" rx="2.0" ry="2.8" transform="rotate(-9.17472729175062 87.20383799259528 415.1478337262819)" fill="#333" stroke="#1c1c1c" stroke-width="1.0" />
<ellipse cx="87.0" cy="415.2" rx="0.8" ry="1.2" transform="rotate(-9.17472729175062 87.00639665432547 415.17972287713644)" fill="#ccc" stroke="#1c1c1c" stroke-width="0" />
<path d="M65.0,429.2 L94.6,423.4 L94.0,420.6 L64.5,426.3 Z" fill="#fff" stroke="#1c1c1c" stroke-width="1.0" />
<path d="M88.4,426.1 L93.1,425.2 L92.0,419.5 L87.3,420.4 Z" fill="#fff" stroke="#1c1c1c" stroke-width="1.2" />
<line x1="88.0" y1="424.2" x2="92.7" y2="423.3" stroke="#1c1c1c" stroke-width="0.8"/>
<line x1="87.7" y1="422.3" x2="92.4" y2="421.4" stroke="#1c1c1c" stroke-width="0.8"/>
<ellipse cx="63.4" cy="428.0" rx="2.2" ry="4.3" transform="rotate(-10.960335446035092 63.370814465450934 427.99579297324016)" fill="#fff" stroke="#1c1c1c" stroke-width="1.2" />
<ellipse cx="61.8" cy="428.3" rx="3.1" ry="4.2" transform="rotate(-10.960335446035092 61.8 428.3)" fill="#fff" stroke="#1c1c1c" stroke-width="1.4" />
<ellipse cx="61.5" cy="428.4" rx="2.0" ry="2.8" transform="rotate(-10.960335446035092 61.50547228772795 428.3570388175175)" fill="#333" stroke="#1c1c1c" stroke-width="1.0" />
<ellipse cx="61.3" cy="428.4" rx="0.8" ry="1.2" transform="rotate(-10.960335446035092 61.30912047954658 428.39506469586246)" fill="#ccc" stroke="#1c1c1c" stroke-width="0" />
<path d="M80.2,431.7 L110.4,425.6 L109.8,422.7 L79.7,428.9 Z" fill="#fff" stroke="#1c1c1c" stroke-width="1.0" />
<path d="M104.2,428.3 L108.9,427.4 L107.8,421.7 L103.1,422.6 Z" fill="#fff" stroke="#1c1c1c" stroke-width="1.2" />
<line x1="103.8" y1="426.5" x2="108.6" y2="425.5" stroke="#1c1c1c" stroke-width="0.8"/>
<line x1="103.4" y1="424.5" x2="108.2" y2="423.5" stroke="#1c1c1c" stroke-width="0.8"/>
<ellipse cx="78.6" cy="430.6" rx="2.2" ry="4.3" transform="rotate(-11.4997786298572 78.56788075983842 430.58101736265354)" fill="#fff" stroke="#1c1c1c" stroke-width="1.2" />
<ellipse cx="77.0" cy="430.9" rx="3.1" ry="4.2" transform="rotate(-11.4997786298572 77 430.9)" fill="#fff" stroke="#1c1c1c" stroke-width="1.4" />
<ellipse cx="76.7" cy="431.0" rx="2.0" ry="2.8" transform="rotate(-11.4997786298572 76.7060223575303 430.9598092445024)" fill="#333" stroke="#1c1c1c" stroke-width="1.0" />
<ellipse cx="76.5" cy="431.0" rx="0.8" ry="1.2" transform="rotate(-11.4997786298572 76.5100372625505 430.9996820741707)" fill="#ccc" stroke="#1c1c1c" stroke-width="0" />
<path d="M494.1,334.8 L494.5,337.6 L494.6,340.4 L494.5,343.2 L494.2,345.8 L493.6,348.3 L492.8,350.6 L491.8,352.6 L490.6,354.4 L489.3,355.9 L487.8,357.1 L486.2,358.0 L484.5,358.5 L482.7,358.6 L480.9,358.4 L479.0,357.8 L477.3,356.8 L475.5,355.5 L473.9,353.9 L472.4,352.0 L471.0,349.9 L469.8,347.5 L468.7,345.0 L467.9,342.3 L467.3,339.6 L466.9,336.8 L466.8,334.0 L466.9,331.2 L467.2,328.6 L467.8,326.1 L468.6,323.8 L469.6,321.8 L470.8,320.0 L472.1,318.5 L473.6,317.3 L475.2,316.4 L476.9,315.9 L478.7,315.8 L480.5,316.0 L482.4,316.6 L484.1,317.6 L485.9,318.9 L487.5,320.5 L489.0,322.4 L490.4,324.5 L491.6,326.9 L492.7,329.4 L493.5,332.1 L494.1,334.8 Z M492.4,335.1 L492.8,337.7 L492.9,340.3 L492.8,342.8 L492.6,345.2 L492.1,347.5 L491.4,349.6 L490.6,351.5 L489.6,353.1 L488.4,354.5 L487.1,355.6 L485.7,356.4 L484.2,356.8 L482.6,356.9 L481.0,356.7 L479.4,356.1 L477.8,355.2 L476.3,354.0 L474.9,352.5 L473.5,350.8 L472.3,348.8 L471.2,346.6 L470.3,344.3 L469.5,341.8 L469.0,339.3 L468.6,336.7 L468.5,334.1 L468.6,331.6 L468.8,329.2 L469.3,326.9 L470.0,324.8 L470.8,322.9 L471.8,321.3 L473.0,319.9 L474.3,318.8 L475.7,318.0 L477.2,317.6 L478.8,317.5 L480.4,317.7 L482.0,318.3 L483.6,319.2 L485.1,320.4 L486.5,321.9 L487.9,323.6 L489.1,325.6 L490.2,327.8 L491.1,330.1 L491.9,332.6 L492.4,335.1 Z" fill="#fff" stroke="#1c1c1c" stroke-width="1.15" fill-rule="evenodd"/>
<path d="M492.6,312.8 L498.6,307.5 L511.8,311.5 L521.0,330.0 L518.4,350.4 L511.1,359.7 L499.9,355.7 Z" fill="#fff" stroke="#1c1c1c" stroke-width="1.1" />
<path d="M492.6,312.8 L498.4,308.6 L509.8,312.2 L516.4,330.6 L514.4,349.1 L509.1,357.0 L499.9,355.7 Z" fill="#fff" stroke="#1c1c1c" stroke-width="0.9" />
<line x1="509.8" y1="312.2" x2="511.8" y2="311.5" stroke="#1c1c1c" stroke-width="0.9"/>
<line x1="516.4" y1="330.6" x2="521.0" y2="330.0" stroke="#1c1c1c" stroke-width="0.9"/>
<line x1="514.4" y1="349.1" x2="518.4" y2="350.4" stroke="#1c1c1c" stroke-width="0.9"/>
<line x1="509.1" y1="357.0" x2="511.1" y2="359.7" stroke="#1c1c1c" stroke-width="0.9"/>
<path d="M489,316 Q500,311 508,318 Q514.5,327 513.5,340 Q512,351 506,356.5 L492,354 Z" fill="#2a2a2a" stroke="#1c1c1c" stroke-width="1" />
<path d="M500.3,316.8 L501.4,317.3 L502.5,318.1 L503.6,319.0 L504.6,320.1 L505.6,321.4 L506.4,322.7 L507.3,324.2 L508.0,325.8 L508.6,327.5 L509.1,329.3 L509.6,331.1 L509.9,333.0 L510.1,334.8 L510.2,336.7 L510.2,338.5 L510.0,340.4 L509.8,342.1 L509.4,343.8 L508.9,345.3 L508.3,346.8 L507.7,348.1 L506.9,349.3 L506.1,350.3 L505.1,351.2" fill="none" stroke="#999" stroke-width="1.1" stroke-dasharray="1 2.6"/>
<path d="M505.8,318.5 L506.7,319.2 L507.5,320.1 L508.3,321.0 L509.0,322.0 L509.7,323.2 L510.4,324.4 L510.9,325.7 L511.5,327.0 L511.9,328.4 L512.3,329.9 L512.7,331.4 L512.9,332.9 L513.1,334.4 L513.2,336.0 L513.2,337.5 L513.1,339.0 L513.0,340.4 L512.8,341.8 L512.5,343.2 L512.2,344.4 L511.7,345.6 L511.2,346.8 L510.7,347.8 L510.1,348.7" fill="none" stroke="#888" stroke-width="1.0" stroke-dasharray="1 3"/>
<ellipse cx="490.0" cy="334.7" rx="11.2" ry="18.6" transform="rotate(-8 490 334.7)" fill="#fff" stroke="#1c1c1c" stroke-width="1.2" />
<ellipse cx="490.3" cy="334.7" rx="9.6" ry="17.0" transform="rotate(-8 490.3 334.7)" fill="#fff" stroke="#1c1c1c" stroke-width="1" />
<path d="M499.5,350.0 L498.5,349.6 L497.6,348.9 L496.7,348.0 L495.8,346.8 L495.0,345.4 L494.2,343.9 L493.5,342.1 L492.9,340.2 L492.5,338.2 L492.1,336.1 L491.9,334.0 L491.7,332.0 L491.7,330.0 L491.9,328.1 L492.2,326.3 L492.5,324.7 L493.0,323.3 L493.7,322.1 L494.3,321.1 L495.1,320.4 L496.0,320.0 L496.9,319.9 L497.8,320.1 L498.7,320.5" fill="none" stroke="#1c1c1c" stroke-width="1" />
<path d="M499.8,349.5 L499.0,348.8 L498.1,348.0 L497.3,346.9 L496.6,345.7 L495.9,344.3 L495.3,342.8 L494.7,341.1 L494.2,339.4 L493.8,337.5 L493.5,335.7 L493.3,333.8 L493.2,332.0 L493.2,330.2 L493.3,328.5 L493.6,326.8 L493.9,325.3 L494.3,324.0 L494.8,322.8 L495.3,321.8 L496.0,321.0 L496.7,320.4 L497.4,320.1 L498.2,319.9 L499.0,320.0" fill="none" stroke="#1c1c1c" stroke-width="0.8" />
<path d="M497.8,382.4 L498.0,385.3 L498.1,388.3 L497.9,391.2 L497.4,393.9 L496.7,396.5 L495.8,398.9 L494.6,401.1 L493.3,402.9 L491.8,404.5 L490.1,405.7 L488.3,406.5 L486.5,407.0 L484.6,407.1 L482.6,406.7 L480.7,406.0 L478.8,405.0 L477.0,403.5 L475.3,401.8 L473.8,399.8 L472.4,397.4 L471.2,394.9 L470.2,392.2 L469.4,389.4 L468.8,386.4 L468.6,383.5 L468.5,380.5 L468.7,377.6 L469.2,374.9 L469.9,372.3 L470.8,369.9 L472.0,367.7 L473.3,365.9 L474.8,364.3 L476.5,363.1 L478.3,362.3 L480.1,361.8 L482.0,361.7 L484.0,362.1 L485.9,362.8 L487.8,363.8 L489.6,365.3 L491.3,367.0 L492.8,369.0 L494.2,371.4 L495.4,373.9 L496.4,376.6 L497.2,379.4 L497.8,382.4 Z M496.1,382.6 L496.3,385.3 L496.4,388.1 L496.2,390.7 L495.8,393.3 L495.2,395.7 L494.4,397.9 L493.4,399.9 L492.2,401.6 L490.9,403.0 L489.4,404.1 L487.9,404.9 L486.2,405.3 L484.5,405.4 L482.8,405.0 L481.1,404.4 L479.5,403.4 L477.9,402.1 L476.3,400.4 L475.0,398.5 L473.7,396.4 L472.6,394.1 L471.7,391.5 L471.0,388.9 L470.5,386.2 L470.3,383.5 L470.2,380.7 L470.4,378.1 L470.8,375.5 L471.4,373.1 L472.2,370.9 L473.2,368.9 L474.4,367.2 L475.7,365.8 L477.2,364.7 L478.7,363.9 L480.4,363.5 L482.1,363.4 L483.8,363.8 L485.5,364.4 L487.1,365.4 L488.7,366.7 L490.3,368.4 L491.6,370.3 L492.9,372.4 L494.0,374.7 L494.9,377.3 L495.6,379.9 L496.1,382.6 Z" fill="#fff" stroke="#1c1c1c" stroke-width="1.15" fill-rule="evenodd"/>
<path d="M502,364.6 L524.4,362.2 L540,375 L535,411 L508,411 Z" fill="#fff" stroke="#1c1c1c" stroke-width="0" />
<path d="M500.6,364.7 L524.4,362.3 M502,411.3 L508,410.2 L527,412.2" fill="none" stroke="#1c1c1c" stroke-width="1" />
<path d="M497.5,366.5 Q489,372 487.2,384 Q487,397 493.5,405 L497,403 L492.5,388.4 Z" fill="#2a2a2a" stroke="#1c1c1c" stroke-width="1" />
<path d="M500.6,364.7 L491.7,388.4 L500.6,411.4 L504.4,410.7 L494.8,389 L504.4,365.4 Z" fill="#fff" stroke="#1c1c1c" stroke-width="1" />
<path d="M504.4,365.4 L507,368.5 L498.2,389.5 L507.5,409.7 L504.4,410.7" fill="#fff" stroke="#1c1c1c" stroke-width="0.9" />
<ellipse cx="528.9" cy="388.9" rx="18.7" ry="23.6" transform="rotate(-6 528.9 388.9)" fill="#fff" stroke="#1c1c1c" stroke-width="1.2" />
<ellipse cx="528.9" cy="388.9" rx="17.0" ry="21.8" transform="rotate(-6 528.9 388.9)" fill="#fff" stroke="#1c1c1c" stroke-width="1" />
<path d="M528.4,403.4 L527.2,404.9 L525.9,405.9 L524.5,406.3 L523.1,406.2 L521.6,405.5 L520.1,404.3 L518.8,402.6 L517.5,400.4 L516.4,397.9 L515.5,395.1 L514.8,392.0 L514.3,388.9 L514.1,385.7 L514.2,382.6 L514.5,379.6 L515.0,376.9 L515.8,374.5 L516.8,372.6 L518.0,371.1 L519.3,370.1 L520.7,369.7 L522.1,369.8 L523.6,370.5 L525.1,371.7" fill="none" stroke="#1c1c1c" stroke-width="0.9" />
<path d="M527.1,371.7 L527.8,372.5 L528.4,373.4 L529.1,374.4 L529.7,375.6 L530.3,376.8 L530.8,378.1 L531.3,379.5 L531.7,380.9 L532.1,382.4 L532.4,384.0 L532.7,385.5 L532.9,387.1 L533.0,388.7 L533.1,390.3 L533.1,391.9 L533.0,393.4 L532.9,394.9 L532.7,396.4 L532.5,397.8 L532.2,399.1 L531.8,400.3 L531.4,401.5 L530.9,402.5 L530.4,403.4" fill="none" stroke="#1c1c1c" stroke-width="0.8" />
<path d="M509.7,408.8 L509.2,408.0 L508.8,407.0 L508.3,405.8 L507.9,404.5 L507.4,403.0 L507.0,401.3 L506.6,399.5 L506.2,397.7 L505.9,395.7 L505.5,393.6 L505.3,391.5 L505.0,389.4 L504.8,387.3 L504.7,385.2 L504.5,383.1 L504.5,381.1 L504.5,379.2 L504.5,377.4 L504.6,375.7 L504.7,374.1 L504.8,372.7 L505.0,371.4 L505.3,370.4 L505.6,369.5" fill="none" stroke="#1c1c1c" stroke-width="0.8" />
<ellipse cx="478.4" cy="278.8" rx="4.1" ry="5.0" fill="#2a2a2a" stroke="#1c1c1c" stroke-width="1.2" />
<ellipse cx="477.4" cy="278.7" rx="3.9" ry="4.9" fill="#2a2a2a" stroke="#1c1c1c" stroke-width="1.2" />
<ellipse cx="476.9" cy="278.6" rx="1.2" ry="1.6" fill="#888" stroke="#1c1c1c" stroke-width="0" />
<path d="M489.8,274.8 L495,276 L499.6,276.6 L499.6,279.6 L495,280.2 L490.4,281.4 Z" fill="#444" stroke="#1c1c1c" stroke-width="1" />
<path d="M495,276 L495,280.2" fill="none" stroke="#ddd" stroke-width="0.8" />
<ellipse cx="312.2" cy="303.2" rx="4.1" ry="4.6" fill="#333" stroke="#1c1c1c" stroke-width="1.2" />
<ellipse cx="312.2" cy="303.2" rx="1.6" ry="1.9" fill="#888" stroke="#1c1c1c" stroke-width="0" />
<path d="M292,302.7 L294.5,309.8 L297.2,309.5 L301.5,307.6 L301.5,304.6 L296.5,303 Z" fill="#555" stroke="#1c1c1c" stroke-width="1.2" />
<path d="M293.4,303.6 L295.4,308.8 L296.6,304 Z" fill="#eee" stroke="#1c1c1c" stroke-width="0" />
<ellipse cx="385.0" cy="249.7" rx="60.6" ry="12.8" transform="rotate(-1.1 385 249.7)" fill="#fff" stroke="#1c1c1c" stroke-width="1.1" />
<path d="M443.7,249.6 L442.2,251.0 L439.8,252.4 L436.7,253.7 L432.9,255.0 L428.5,256.1 L423.5,257.2 L417.9,258.2 L412.0,259.0 L405.6,259.7 L399.0,260.2 L392.2,260.6 L385.2,260.8 L378.3,260.8 L371.5,260.7 L364.8,260.5 L358.5,260.0 L352.5,259.4 L346.9,258.7 L341.8,257.8 L337.3,256.8 L333.5,255.7 L330.4,254.5 L328.0,253.2 L326.4,251.8" fill="none" stroke="#1c1c1c" stroke-width="0.7" />
<ellipse cx="386.2" cy="246.2" rx="56.1" ry="11.0" transform="rotate(-1.7 386.2 246.2)" fill="#fff" stroke="#1c1c1c" stroke-width="1" />
<path d="M330.1,247.9 C330.5,247.1 331.5,244.6 332.4,243.0 C333.3,241.4 333.9,240.3 335.3,238.1 C336.8,235.9 339.2,232.4 341.1,230.0 C343.0,227.6 345.0,225.6 346.9,223.7 C348.8,221.8 350.8,220.1 352.7,218.5 C354.6,216.9 356.5,215.6 358.4,214.4 C360.3,213.2 362.3,212.5 364.2,211.6 C366.1,210.7 368.5,209.8 370.0,209.2 C371.5,208.6 372.1,208.4 373.4,208.1 C374.7,207.8 377.2,207.3 378.0,207.2 L393.7,206.9 L393.7,206.9 C395.1,207.3 399.9,208.4 402.3,209.2 C404.7,210.0 406.2,210.6 408.1,211.6 C410.0,212.6 412.0,213.8 413.9,215.0 C415.8,216.2 417.8,217.7 419.7,219.1 C421.6,220.5 423.5,222.0 425.4,223.7 C427.3,225.4 429.5,227.6 431.2,229.5 C432.9,231.4 434.4,233.3 435.8,235.2 C437.2,237.1 438.8,239.4 439.9,241.0 C441.0,242.6 441.8,243.9 442.2,244.5 L442.3,244.9 L441.6,246.3 L440.0,247.8 L437.6,249.2 L434.3,250.5 L430.2,251.8 L425.4,253.0 L419.9,254.0 L414.0,255.0 L407.5,255.8 L400.7,256.4 L393.7,256.9 L386.5,257.2 L379.4,257.3 L372.3,257.3 L365.5,257.0 L359.0,256.6 L353.0,256.0 L347.5,255.3 L342.6,254.4 L338.5,253.3 L335.1,252.2 L332.6,250.9 L330.9,249.6 L330.2,248.2 Z" fill="#fff" stroke="#1c1c1c" stroke-width="1.2" />
<path d="M374.6,209.2 C373.8,211.5 371.0,218.0 369.5,223.0 C368.0,228.0 366.8,233.6 365.8,239.0 C364.8,244.4 364.0,252.7 363.6,255.4" fill="none" stroke="#1c1c1c" stroke-width="1" />
<path d="M378.1,210.4 C377.3,212.7 374.8,219.1 373.4,224.0 C371.9,228.9 370.4,234.6 369.4,240.0 C368.3,245.4 367.5,253.8 367.1,256.6" fill="none" stroke="#1c1c1c" stroke-width="1" />
<path d="M393.7,211.6 C395.1,213.1 399.5,217.0 402.3,220.8 C405.1,224.7 408.1,229.5 410.4,234.7 C412.7,239.9 415.2,249.1 416.2,252.0" fill="none" stroke="#1c1c1c" stroke-width="1" />
<path d="M397.7,211.0 C399.2,212.6 404.1,216.9 406.9,220.8 C409.7,224.8 412.4,229.7 414.5,234.7 C416.6,239.7 418.8,248.1 419.7,250.8" fill="none" stroke="#1c1c1c" stroke-width="1" />
<path d="M381.4,212.5 L382.2,250.4 L387.6,250.6 L387.4,212.5" fill="#fff" stroke="#1c1c1c" stroke-width="1" />
<path d="M383.2,216 L383.6,250" fill="none" stroke="#1c1c1c" stroke-width="2.0" />
<path d="M368.7,256.3 L384.2,250.2 L392.6,250.4 L417.8,255.6" fill="none" stroke="#1c1c1c" stroke-width="1" />
<path d="M368.7,257.4 L384.2,259 L417.8,256.6" fill="none" stroke="#1c1c1c" stroke-width="0.8" />
<path d="M442.3,244.5 L441.8,246.0 L440.4,247.4 L438.1,248.9 L434.9,250.3 L430.9,251.6 L426.1,252.8 L420.6,253.9 L414.5,254.9 L408.0,255.7 L401.0,256.4 L393.8,256.9 L386.5,257.2 L379.2,257.3 L372.0,257.3 L365.0,257.0 L358.4,256.6 L352.3,255.9 L346.8,255.2 L341.9,254.2 L337.8,253.1 L334.5,251.9 L332.1,250.7 L330.6,249.3 L330.1,247.9" fill="none" stroke="#1c1c1c" stroke-width="1.1" />
<ellipse cx="384.5" cy="209.3" rx="7.5" ry="2.0" fill="#fff" stroke="#1c1c1c" stroke-width="1" />
<path d="M379,210.6 L379.4,213.4 L389.6,213.4 L390,210.6" fill="#fff" stroke="#1c1c1c" stroke-width="1" />
<path d="M375.4,169.5 L375.4,183.8 L389.7,183.8 L389.7,169.5" fill="#fff" stroke="#1c1c1c" stroke-width="1.1" />
<path d="M383.7,172.4 L383.7,182.3 L389.2,182.3 L389.2,172.4 Z" fill="#fff" stroke="#1c1c1c" stroke-width="1.1" />
<path d="M386.3,173.5 L386.3,177 M378,173 L380,175" fill="none" stroke="#1c1c1c" stroke-width="1.2" />
<path d="M389.7,174 L401,174 Q403.5,175.4 401,176.6 L389.7,176.6 M389.7,178.8 L398,178.8 Q401,177.6 401,176.6" fill="none" stroke="#1c1c1c" stroke-width="0.9" />
<ellipse cx="383.2" cy="185.6" rx="10.6" ry="2.6" transform="rotate(-2 383.2 185.6)" fill="none" stroke="#1c1c1c" stroke-width="3.2" />
<ellipse cx="383.2" cy="185.6" rx="10.6" ry="2.6" transform="rotate(-2 383.2 185.6)" fill="none" stroke="#fff" stroke-width="1.4" />
<ellipse cx="383.2" cy="191.0" rx="10.6" ry="2.6" transform="rotate(-2 383.2 191.0)" fill="none" stroke="#1c1c1c" stroke-width="3.2" />
<ellipse cx="383.2" cy="191.0" rx="10.6" ry="2.6" transform="rotate(-2 383.2 191.0)" fill="none" stroke="#fff" stroke-width="1.4" />
<ellipse cx="383.2" cy="196.4" rx="10.6" ry="2.6" transform="rotate(-2 383.2 196.4)" fill="none" stroke="#1c1c1c" stroke-width="3.2" />
<ellipse cx="383.2" cy="196.4" rx="10.6" ry="2.6" transform="rotate(-2 383.2 196.4)" fill="none" stroke="#fff" stroke-width="1.4" />
<ellipse cx="383.2" cy="201.8" rx="10.6" ry="2.6" transform="rotate(-2 383.2 201.8)" fill="none" stroke="#1c1c1c" stroke-width="3.2" />
<ellipse cx="383.2" cy="201.8" rx="10.6" ry="2.6" transform="rotate(-2 383.2 201.8)" fill="none" stroke="#fff" stroke-width="1.4" />
<ellipse cx="383.2" cy="207.2" rx="10.6" ry="2.6" transform="rotate(-2 383.2 207.2)" fill="none" stroke="#1c1c1c" stroke-width="3.2" />
<ellipse cx="383.2" cy="207.2" rx="10.6" ry="2.6" transform="rotate(-2 383.2 207.2)" fill="none" stroke="#fff" stroke-width="1.4" />
<ellipse cx="381.3" cy="155.2" rx="72.5" ry="16.0" transform="rotate(-2 381.3 155.2)" fill="#fff" stroke="#1c1c1c" stroke-width="1.1" />
<ellipse cx="381.3" cy="153.6" rx="71.5" ry="15.4" transform="rotate(-2 381.3 153.6)" fill="#fff" stroke="#1c1c1c" stroke-width="0.9" />
<path d="M312.2,151.3 h3.4 v2.6 h-3.4 Z" fill="#444" stroke="#1c1c1c" stroke-width="0.8" />
<path d="M310.0,154.0 h3.4 v2.6 h-3.4 Z" fill="#444" stroke="#1c1c1c" stroke-width="0.8" />
<path d="M310.1,157.1 h3.4 v2.6 h-3.4 Z" fill="#444" stroke="#1c1c1c" stroke-width="0.8" />
<path d="M314.0,160.5 h3.4 v2.6 h-3.4 Z" fill="#444" stroke="#1c1c1c" stroke-width="0.8" />
<path d="M323.3,163.9 h3.4 v2.6 h-3.4 Z" fill="#444" stroke="#1c1c1c" stroke-width="0.8" />
<path d="M337.9,166.5 h3.4 v2.6 h-3.4 Z" fill="#444" stroke="#1c1c1c" stroke-width="0.8" />
<path d="M357.3,168.1 h3.4 v2.6 h-3.4 Z" fill="#444" stroke="#1c1c1c" stroke-width="0.8" />
<path d="M378.9,168.1 h3.4 v2.6 h-3.4 Z" fill="#444" stroke="#1c1c1c" stroke-width="0.8" />
<path d="M400.6,166.7 h3.4 v2.6 h-3.4 Z" fill="#444" stroke="#1c1c1c" stroke-width="0.8" />
<path d="M419.2,164.2 h3.4 v2.6 h-3.4 Z" fill="#444" stroke="#1c1c1c" stroke-width="0.8" />
<path d="M433.5,160.9 h3.4 v2.6 h-3.4 Z" fill="#444" stroke="#1c1c1c" stroke-width="0.8" />
<path d="M443.2,157.2 h3.4 v2.6 h-3.4 Z" fill="#444" stroke="#1c1c1c" stroke-width="0.8" />
<path d="M448.4,153.6 h3.4 v2.6 h-3.4 Z" fill="#444" stroke="#1c1c1c" stroke-width="0.8" />
<path d="M449.6,150.7 h3.4 v2.6 h-3.4 Z" fill="#444" stroke="#1c1c1c" stroke-width="0.8" />
<path d="M448.4,148.1 h3.4 v2.6 h-3.4 Z" fill="#444" stroke="#1c1c1c" stroke-width="0.8" />
<path d="M459.6,142.1 L459.0,143.8 L457.1,145.5 L453.9,147.2 L449.4,148.9 L443.8,150.6 L437.1,152.2 L429.4,153.7 L420.9,155.1 L411.7,156.3 L402.0,157.4 L391.9,158.3 L381.7,159.0 L371.4,159.4 L361.3,159.7 L351.6,159.7 L342.3,159.5 L333.7,159.1 L325.9,158.4 L319.1,157.6 L313.3,156.5 L308.7,155.3 L305.3,154.0 L303.2,152.5 L302.4,150.9 L302.3,135.7 L302.3,135.7 L302.9,133.7 L304.8,131.6 L308.0,129.5 L312.5,127.4 L318.1,125.5 L324.8,123.6 L332.5,121.9 L341.0,120.4 L350.2,119.1 L360.0,118.0 L370.0,117.2 L380.3,116.6 L390.6,116.3 L400.7,116.3 L410.5,116.5 L419.8,117.0 L428.4,117.8 L436.2,118.8 L443.0,120.0 L448.8,121.5 L453.5,123.1 L456.9,124.9 L459.0,126.8 L459.7,128.9 Z" fill="#fff" stroke="#1c1c1c" stroke-width="1.1" />
<ellipse cx="381.0" cy="132.3" rx="78.8" ry="15.7" transform="rotate(-2.5 381 132.3)" fill="#fff" stroke="#1c1c1c" stroke-width="1.4" />
<line x1="430.3" y1="122.9" x2="456.4" y2="127.2" stroke="#1c1c1c" stroke-width="1.5"/>
<line x1="431.4" y1="123.6" x2="457.2" y2="128.7" stroke="#1c1c1c" stroke-width="0.9"/>
<line x1="431.9" y1="124.3" x2="457.1" y2="130.2" stroke="#1c1c1c" stroke-width="1.5"/>
<line x1="431.8" y1="125.0" x2="456.2" y2="131.7" stroke="#1c1c1c" stroke-width="0.9"/>
<line x1="431.2" y1="125.8" x2="454.4" y2="133.2" stroke="#1c1c1c" stroke-width="1.5"/>
<line x1="430.0" y1="126.6" x2="451.9" y2="134.7" stroke="#1c1c1c" stroke-width="0.9"/>
<line x1="428.3" y1="127.4" x2="448.6" y2="136.2" stroke="#1c1c1c" stroke-width="1.5"/>
<line x1="426.0" y1="128.2" x2="444.5" y2="137.7" stroke="#1c1c1c" stroke-width="0.9"/>
<line x1="423.2" y1="128.9" x2="439.8" y2="139.1" stroke="#1c1c1c" stroke-width="1.5"/>
<line x1="420.0" y1="129.7" x2="434.4" y2="140.4" stroke="#1c1c1c" stroke-width="0.9"/>
<line x1="416.3" y1="130.4" x2="428.4" y2="141.6" stroke="#1c1c1c" stroke-width="1.5"/>
<line x1="412.2" y1="131.1" x2="421.9" y2="142.8" stroke="#1c1c1c" stroke-width="0.9"/>
<line x1="407.8" y1="131.7" x2="415.0" y2="143.8" stroke="#1c1c1c" stroke-width="1.5"/>
<line x1="403.1" y1="132.3" x2="407.7" y2="144.7" stroke="#1c1c1c" stroke-width="0.9"/>
<line x1="398.1" y1="132.8" x2="400.0" y2="145.5" stroke="#1c1c1c" stroke-width="1.5"/>
<line x1="392.9" y1="133.2" x2="392.2" y2="146.1" stroke="#1c1c1c" stroke-width="0.9"/>
<line x1="387.5" y1="133.6" x2="384.3" y2="146.6" stroke="#1c1c1c" stroke-width="1.5"/>
<line x1="382.1" y1="133.9" x2="376.3" y2="146.9" stroke="#1c1c1c" stroke-width="0.9"/>
<line x1="376.7" y1="134.1" x2="384.3" y2="146.6" stroke="#1c1c1c" stroke-width="1.5"/>
<line x1="371.3" y1="134.3" x2="376.3" y2="146.9" stroke="#1c1c1c" stroke-width="0.9"/>
<line x1="366.0" y1="134.3" x2="368.4" y2="147.0" stroke="#1c1c1c" stroke-width="1.5"/>
<line x1="360.8" y1="134.3" x2="360.6" y2="147.1" stroke="#1c1c1c" stroke-width="0.9"/>
<line x1="355.9" y1="134.2" x2="353.0" y2="146.9" stroke="#1c1c1c" stroke-width="1.5"/>
<line x1="351.2" y1="134.0" x2="345.8" y2="146.6" stroke="#1c1c1c" stroke-width="0.9"/>
<line x1="346.8" y1="133.8" x2="338.9" y2="146.1" stroke="#1c1c1c" stroke-width="1.5"/>
<line x1="342.8" y1="133.4" x2="332.5" y2="145.5" stroke="#1c1c1c" stroke-width="0.9"/>
<line x1="339.3" y1="133.0" x2="326.6" y2="144.7" stroke="#1c1c1c" stroke-width="1.5"/>
<line x1="336.1" y1="132.5" x2="321.3" y2="143.9" stroke="#1c1c1c" stroke-width="0.9"/>
<line x1="333.4" y1="132.0" x2="316.7" y2="142.8" stroke="#1c1c1c" stroke-width="1.5"/>
<line x1="331.3" y1="131.4" x2="312.8" y2="141.7" stroke="#1c1c1c" stroke-width="0.9"/>
<line x1="329.7" y1="130.7" x2="309.6" y2="140.5" stroke="#1c1c1c" stroke-width="1.5"/>
<line x1="328.6" y1="130.0" x2="307.2" y2="139.2" stroke="#1c1c1c" stroke-width="0.9"/>
<line x1="328.1" y1="129.3" x2="305.6" y2="137.8" stroke="#1c1c1c" stroke-width="1.5"/>
<line x1="328.2" y1="128.6" x2="304.8" y2="136.3" stroke="#1c1c1c" stroke-width="0.9"/>
<line x1="328.8" y1="127.8" x2="304.9" y2="134.8" stroke="#1c1c1c" stroke-width="1.5"/>
<path d="M450.1,133.1 L447.4,134.4 L444.0,135.7 L439.9,136.9 L435.2,138.1 L429.9,139.2 L424.0,140.3 L417.7,141.3 L410.9,142.1 L403.9,142.9 L396.6,143.6 L389.1,144.1 L381.5,144.5 L374.0,144.8 L366.5,144.9 L359.1,144.9 L352.0,144.7 L345.2,144.4 L338.9,144.0 L332.9,143.5 L327.5,142.8 L322.7,142.0 L318.5,141.1 L315.0,140.1 L312.3,139.1" fill="none" stroke="#1c1c1c" stroke-width="0.8" />
<path d="M443.7,133.8 L440.7,134.8 L437.1,135.7 L433.1,136.7 L428.6,137.5 L423.7,138.4 L418.4,139.2 L412.8,139.9 L406.9,140.6 L400.7,141.1 L394.4,141.6 L388.0,142.1 L381.4,142.4 L374.9,142.6 L368.5,142.8 L362.1,142.8 L356.0,142.8 L350.0,142.6 L344.3,142.4 L339.0,142.1 L334.0,141.7 L329.5,141.2 L325.4,140.6 L321.8,140.0 L318.7,139.2" fill="none" stroke="#1c1c1c" stroke-width="0.7" />
<path d="M452.4,124.5 L455.8,126.6 L457.2,128.8 L456.7,131.1 L454.2,133.4 L449.9,135.7 L443.8,137.9 L436.1,140.0 L427.0,141.9 L416.7,143.5 L405.6,144.9 L393.8,146.0 L381.6,146.7 L369.5,147.0 L357.6,147.0 L346.4,146.6 L336.0,145.9 L326.8,144.8 L318.9,143.4 L312.7,141.7 L308.2,139.8 L305.5,137.7 L304.8,135.4 L306.0,133.1 L309.2,130.8" fill="none" stroke="#1c1c1c" stroke-width="1.0" />
<ellipse cx="380.0" cy="126.8" rx="52.0" ry="7.2" transform="rotate(-2.5 380 126.8)" fill="#fff" stroke="#1c1c1c" stroke-width="1.1" />
<path d="M330.0,129.4 L330.4,128.6 L331.7,127.7 L333.7,126.8 L336.6,126.0 L340.2,125.2 L344.5,124.4 L349.4,123.6 L354.8,122.9 L360.6,122.3 L366.8,121.8 L373.2,121.3 L379.7,121.0 L386.3,120.8 L392.7,120.7 L398.9,120.6 L404.7,120.7 L410.2,121.0 L415.1,121.3 L419.5,121.7 L423.1,122.2 L426.0,122.8 L428.2,123.5 L429.5,124.2 L430.0,125.0" fill="none" stroke="#1c1c1c" stroke-width="0.8" />
<line x1="337.4" y1="133.1" x2="337.4" y2="145.3" stroke="#1c1c1c" stroke-width="2.3"/>
<line x1="335.0" y1="133.2" x2="339.8" y2="133.2" stroke="#1c1c1c" stroke-width="1.5"/>
<line x1="353.8" y1="134.5" x2="353.8" y2="146.2" stroke="#1c1c1c" stroke-width="2.3"/>
<line x1="351.4" y1="134.6" x2="356.2" y2="134.6" stroke="#1c1c1c" stroke-width="1.5"/>
<line x1="372.6" y1="134.5" x2="372.6" y2="146.2" stroke="#1c1c1c" stroke-width="2.3"/>
<line x1="370.2" y1="134.6" x2="375.0" y2="134.6" stroke="#1c1c1c" stroke-width="1.5"/>
<line x1="391.4" y1="133.6" x2="391.4" y2="145.3" stroke="#1c1c1c" stroke-width="2.3"/>
<line x1="389.0" y1="133.7" x2="393.8" y2="133.7" stroke="#1c1c1c" stroke-width="1.5"/>
<line x1="407.9" y1="132.0" x2="407.9" y2="143.8" stroke="#1c1c1c" stroke-width="2.3"/>
<line x1="405.5" y1="132.1" x2="410.3" y2="132.1" stroke="#1c1c1c" stroke-width="1.5"/>
<line x1="425.9" y1="128.5" x2="425.9" y2="141.2" stroke="#1c1c1c" stroke-width="2.3"/>
<line x1="423.5" y1="128.6" x2="428.3" y2="128.6" stroke="#1c1c1c" stroke-width="1.5"/>
<line x1="322.5" y1="131.5" x2="322.5" y2="143.4" stroke="#1c1c1c" stroke-width="2.2"/>
<line x1="320.3" y1="131.5" x2="324.7" y2="131.5" stroke="#1c1c1c" stroke-width="1.4"/>
<line x1="440.5" y1="126.5" x2="440.5" y2="138.0" stroke="#1c1c1c" stroke-width="2.2"/>
<line x1="438.3" y1="126.5" x2="442.7" y2="126.5" stroke="#1c1c1c" stroke-width="1.4"/>
<line x1="311.0" y1="134.5" x2="311.0" y2="140.4" stroke="#1c1c1c" stroke-width="2.2"/>
<line x1="308.8" y1="134.5" x2="313.2" y2="134.5" stroke="#1c1c1c" stroke-width="1.4"/>
<line x1="451.0" y1="128.0" x2="451.0" y2="134.3" stroke="#1c1c1c" stroke-width="2.2"/>
<line x1="448.8" y1="128.0" x2="453.2" y2="128.0" stroke="#1c1c1c" stroke-width="1.4"/>
<path d="M350.7,130.2 L411.8,129.2" fill="none" stroke="#1c1c1c" stroke-width="1.2" />
<ellipse cx="381.2" cy="125.7" rx="29.0" ry="3.4" transform="rotate(-1.5 381.2 125.7)" fill="#fff" stroke="#1c1c1c" stroke-width="1.3" />
<ellipse cx="381.2" cy="125.6" rx="19.0" ry="2.0" transform="rotate(-1.5 381.2 125.6)" fill="#fff" stroke="#1c1c1c" stroke-width="1.0" />
<ellipse cx="357.5" cy="126.2" rx="3.6" ry="1.6" fill="#fff" stroke="#1c1c1c" stroke-width="1.1" />
<ellipse cx="404.0" cy="125.2" rx="4.6" ry="1.6" fill="#fff" stroke="#1c1c1c" stroke-width="1.1" />
<path d="M375,128.8 L375,121.8 L380.5,121.8 L380.5,128.8" fill="#fff" stroke="#1c1c1c" stroke-width="1.3" />
<path d="M303.8,133.0 L303.8,126.0 L306.4,126.0 L306.4,133.0" fill="#fff" stroke="#1c1c1c" stroke-width="1.1" />
<path d="M302.4,126.2 L302.4,124.0 L307.8,124.0 L307.8,126.2 Z" fill="#666" stroke="#1c1c1c" stroke-width="1.3" />
<path d="M307.6,130.0 L307.6,123.0 L310.2,123.0 L310.2,130.0" fill="#fff" stroke="#1c1c1c" stroke-width="1.1" />
<path d="M306.2,123.2 L306.2,121.0 L311.6,121.0 L311.6,123.2 Z" fill="#666" stroke="#1c1c1c" stroke-width="1.3" />
<path d="M313.4,127.4 L313.4,120.4 L316.0,120.4 L316.0,127.4" fill="#fff" stroke="#1c1c1c" stroke-width="1.1" />
<path d="M312.0,120.6 L312.0,118.4 L317.4,118.4 L317.4,120.6 Z" fill="#666" stroke="#1c1c1c" stroke-width="1.3" />
<path d="M321.2,124.9 L321.2,117.9 L323.8,117.9 L323.8,124.9" fill="#fff" stroke="#1c1c1c" stroke-width="1.1" />
<path d="M319.8,118.1 L319.8,115.9 L325.2,115.9 L325.2,118.1 Z" fill="#666" stroke="#1c1c1c" stroke-width="1.3" />
<path d="M333.9,122.0 L333.9,115.0 L336.5,115.0 L336.5,122.0" fill="#fff" stroke="#1c1c1c" stroke-width="1.1" />
<path d="M332.5,115.2 L332.5,113.0 L337.9,113.0 L337.9,115.2 Z" fill="#666" stroke="#1c1c1c" stroke-width="1.3" />
<path d="M350.3,119.5 L350.3,112.5 L352.9,112.5 L352.9,119.5" fill="#fff" stroke="#1c1c1c" stroke-width="1.1" />
<path d="M348.9,112.7 L348.9,110.5 L354.3,110.5 L354.3,112.7 Z" fill="#666" stroke="#1c1c1c" stroke-width="1.3" />
<path d="M405.4,116.9 L405.4,109.9 L408.0,109.9 L408.0,116.9" fill="#fff" stroke="#1c1c1c" stroke-width="1.1" />
<path d="M404.0,110.1 L404.0,107.9 L409.4,107.9 L409.4,110.1 Z" fill="#666" stroke="#1c1c1c" stroke-width="1.3" />
<path d="M419.9,117.6 L419.9,110.6 L422.5,110.6 L422.5,117.6" fill="#fff" stroke="#1c1c1c" stroke-width="1.1" />
<path d="M418.5,110.8 L418.5,108.6 L423.9,108.6 L423.9,110.8 Z" fill="#666" stroke="#1c1c1c" stroke-width="1.3" />
<path d="M435.5,119.5 L435.5,112.5 L438.1,112.5 L438.1,119.5" fill="#fff" stroke="#1c1c1c" stroke-width="1.1" />
<path d="M434.1,112.7 L434.1,110.5 L439.5,110.5 L439.5,112.7 Z" fill="#666" stroke="#1c1c1c" stroke-width="1.3" />
<path d="M444.2,121.3 L444.2,114.3 L446.8,114.3 L446.8,121.3" fill="#fff" stroke="#1c1c1c" stroke-width="1.1" />
<path d="M442.8,114.5 L442.8,112.3 L448.2,112.3 L448.2,114.5 Z" fill="#666" stroke="#1c1c1c" stroke-width="1.3" />
<path d="M450.3,123.3 L450.3,116.3 L452.9,116.3 L452.9,123.3" fill="#fff" stroke="#1c1c1c" stroke-width="1.1" />
<path d="M448.9,116.5 L448.9,114.3 L454.3,114.3 L454.3,116.5 Z" fill="#666" stroke="#1c1c1c" stroke-width="1.3" />
<path d="M455.1,126.1 L455.1,119.1 L457.7,119.1 L457.7,126.1" fill="#fff" stroke="#1c1c1c" stroke-width="1.1" />
<path d="M453.7,119.3 L453.7,117.1 L459.1,117.1 L459.1,119.3 Z" fill="#666" stroke="#1c1c1c" stroke-width="1.3" />
<path d="M304.0,136.6 L304.0,130.6 L306.6,130.6 L306.6,136.6" fill="#fff" stroke="#1c1c1c" stroke-width="1.1" />
<path d="M302.6,130.8 L302.6,128.6 L308.0,128.6 L308.0,130.8 Z" fill="#666" stroke="#1c1c1c" stroke-width="1.3" />
<path d="M455.5,130.0 L455.5,124.0 L458.1,124.0 L458.1,130.0" fill="#fff" stroke="#1c1c1c" stroke-width="1.1" />
<path d="M454.1,124.2 L454.1,122.0 L459.5,122.0 L459.5,124.2 Z" fill="#666" stroke="#1c1c1c" stroke-width="1.3" />
<ellipse cx="379.7" cy="111.0" rx="19.3" ry="3.8" fill="#fff" stroke="#1c1c1c" stroke-width="1" />
<ellipse cx="379.4" cy="110.7" rx="11.0" ry="2.1" fill="#fff" stroke="#1c1c1c" stroke-width="1.3" />
<path d="M411.3,45.0 C410.0,46.5 406.1,51.0 403.5,54.0 C400.9,57.0 398.3,59.8 396.0,62.7 C393.7,65.6 390.6,69.8 389.5,71.2 L385,76 L394,81 L400.8,102.5 L400.8,102.5 C400.8,101.4 400.6,98.3 400.8,96.0 C401.0,93.7 401.4,91.4 402.0,88.9 C402.6,86.4 403.5,83.1 404.5,81.0 C405.5,78.9 405.9,78.1 407.8,76.2 C409.7,74.3 412.6,72.0 415.8,69.6 C419.1,67.1 423.4,63.6 427.3,61.5 C431.2,59.4 437.5,57.7 439.5,56.9 L446,55.7 L449.9,52.8 L448.9,45 Z" fill="#fff" stroke="#1c1c1c" stroke-width="1" />
<path d="M448.9,45 L449.9,52.8 Q449.5,55.5 445.8,55.9 L439.5,56.9 L437.7,54" fill="none" stroke="#1c1c1c" stroke-width="1" />
<ellipse cx="429.9" cy="43.9" rx="18.9" ry="6.4" transform="rotate(2 429.9 43.9)" fill="#fff" stroke="#1c1c1c" stroke-width="1.2" />
<ellipse cx="430.0" cy="42.9" rx="13.2" ry="4.3" transform="rotate(1 430 42.9)" fill="#fff" stroke="#1c1c1c" stroke-width="1.6" />
<path d="M437.7,54.0 C436.4,54.2 432.3,54.3 430.0,55.0 C427.7,55.7 426.8,56.1 423.9,58.0 C420.9,59.9 415.4,62.6 412.3,66.1 C409.2,69.6 407.1,74.5 405.4,78.8 C403.7,83.1 402.6,89.8 402.0,92.0" fill="none" stroke="#1c1c1c" stroke-width="0.9" />
<path d="M412.6,48.4 C411.3,49.8 407.5,54.0 405.0,57.0 C402.5,60.0 399.4,63.9 397.5,66.3 C395.6,68.7 394.2,70.6 393.6,71.5" fill="none" stroke="#1c1c1c" stroke-width="0.9" />
<path d="M422.7,50.5 C420.9,51.7 415.3,54.9 412.0,57.5 C408.7,60.1 405.2,63.6 403.0,66.0 C400.8,68.4 399.6,70.2 398.5,72.0 C397.4,73.8 396.8,75.8 396.5,76.5" fill="none" stroke="#1c1c1c" stroke-width="0.9" />
<path d="M411.2,53.6 L399.8,65" fill="none" stroke="#1c1c1c" stroke-width="2.4" />
<path d="M446.5,48 Q438,50.6 429.7,50.8 Q420,50.4 413,47.6" fill="none" stroke="#1c1c1c" stroke-width="0.8" />
<path d="M391.6,69.2 Q399,69.5 405.4,72.9" fill="none" stroke="#1c1c1c" stroke-width="0.9" />
<path d="M389,72 Q397,72.8 402.8,77" fill="none" stroke="#1c1c1c" stroke-width="0.9" />
<path d="M357.6,84.5 L359,100 Q359.5,106 363,106.6 L372,106.6 Q388,105.5 400.8,102.5 L399.7,97 L396.2,83 L394.5,80.5 Z" fill="#fff" stroke="#1c1c1c" stroke-width="1" />
<ellipse cx="376.0" cy="81.3" rx="18.4" ry="6.1" transform="rotate(-5 376 81.3)" fill="#fff" stroke="#1c1c1c" stroke-width="1.1" />
<ellipse cx="376.6" cy="81.0" rx="11.6" ry="3.8" transform="rotate(-5 376.6 81)" fill="#fff" stroke="#1c1c1c" stroke-width="1.1" />
<path d="M365,91.8 Q378,91 388.1,88.3" fill="none" stroke="#1c1c1c" stroke-width="0.9" />
<path d="M359.8,88.6 Q362.5,87.2 364.6,89 L366.4,104.8 L361.8,105.6 Z" fill="#fff" stroke="#1c1c1c" stroke-width="1.2" />
<path d="M389,85 Q391,83.5 392.5,85 L393.3,92.6 Q391.5,94 389.9,92.6 Z" fill="#555" stroke="#1c1c1c" stroke-width="1.2" />
<path d="M390.6,96.6 Q392,94.8 394,95.7 L397,97 L396,100.4 L392,99.4 Q390.2,98.4 390.6,96.6 Z" fill="#fff" stroke="#1c1c1c" stroke-width="1" />
<path d="M395.6,96.6 L403,97.2 Q404.2,98.6 403,100.2 L395.8,100.6 Z" fill="#333" stroke="#1c1c1c" stroke-width="1" />
<line x1="500.8" y1="55.6" x2="451.6" y2="45.8" stroke="#1c1c1c" stroke-width="0.8"/>
<path d="M451.6,45.8 L456.3,45.4 L455.8,48.0 Z" fill="#1c1c1c" stroke="#1c1c1c" stroke-width="0.3" />
<line x1="500.9" y1="75.5" x2="403.1" y2="97.7" stroke="#1c1c1c" stroke-width="0.8"/>
<path d="M403.1,97.7 L407.2,95.4 L407.8,98.0 Z" fill="#1c1c1c" stroke="#1c1c1c" stroke-width="0.3" />
<line x1="500.8" y1="91.8" x2="399.5" y2="111.5" stroke="#1c1c1c" stroke-width="0.8"/>
<path d="M399.5,111.5 L403.7,109.4 L404.2,111.9 Z" fill="#1c1c1c" stroke="#1c1c1c" stroke-width="0.3" />
<line x1="500.8" y1="108.4" x2="455.0" y2="117.8" stroke="#1c1c1c" stroke-width="0.8"/>
<path d="M455.0,117.8 L459.1,115.6 L459.7,118.2 Z" fill="#1c1c1c" stroke="#1c1c1c" stroke-width="0.3" />
<line x1="501.2" y1="109.6" x2="362.0" y2="165.2" stroke="#1c1c1c" stroke-width="0.8"/>
<path d="M362.0,165.2 L365.7,162.3 L366.7,164.7 Z" fill="#1c1c1c" stroke="#1c1c1c" stroke-width="0.3" />
<line x1="501.0" y1="124.9" x2="460.0" y2="136.8" stroke="#1c1c1c" stroke-width="0.8"/>
<path d="M460.0,136.8 L464.0,134.3 L464.7,136.8 Z" fill="#1c1c1c" stroke="#1c1c1c" stroke-width="0.3" />
<line x1="501.0" y1="141.5" x2="454.4" y2="156.4" stroke="#1c1c1c" stroke-width="0.8"/>
<path d="M454.4,156.4 L458.3,153.8 L459.1,156.3 Z" fill="#1c1c1c" stroke="#1c1c1c" stroke-width="0.3" />
<line x1="500.8" y1="156.5" x2="406.5" y2="174.4" stroke="#1c1c1c" stroke-width="0.8"/>
<path d="M406.5,174.4 L410.7,172.3 L411.2,174.8 Z" fill="#1c1c1c" stroke="#1c1c1c" stroke-width="0.3" />
<line x1="500.7" y1="172.2" x2="399.0" y2="183.3" stroke="#1c1c1c" stroke-width="0.8"/>
<path d="M399.0,183.3 L403.3,181.5 L403.6,184.1 Z" fill="#1c1c1c" stroke="#1c1c1c" stroke-width="0.3" />
<line x1="500.8" y1="189.4" x2="398.6" y2="203.0" stroke="#1c1c1c" stroke-width="0.8"/>
<path d="M398.6,203.0 L402.9,201.1 L403.2,203.7 Z" fill="#1c1c1c" stroke="#1c1c1c" stroke-width="0.3" />
<line x1="500.5" y1="211.9" x2="442.4" y2="241.8" stroke="#1c1c1c" stroke-width="0.8"/>
<path d="M442.4,241.8 L445.8,238.6 L447.0,240.9 Z" fill="#1c1c1c" stroke="#1c1c1c" stroke-width="0.3" />
<line x1="501.7" y1="234.0" x2="462.2" y2="268.9" stroke="#1c1c1c" stroke-width="0.8"/>
<path d="M462.2,268.9 L464.7,264.9 L466.4,266.9 Z" fill="#1c1c1c" stroke="#1c1c1c" stroke-width="0.3" />
<line x1="528.2" y1="233.9" x2="481.5" y2="274.2" stroke="#1c1c1c" stroke-width="0.8"/>
<path d="M481.5,274.2 L484.1,270.3 L485.8,272.2 Z" fill="#1c1c1c" stroke="#1c1c1c" stroke-width="0.3" />
<line x1="554.3" y1="233.2" x2="497.3" y2="273.7" stroke="#1c1c1c" stroke-width="0.8"/>
<path d="M497.3,273.7 L500.2,270.0 L501.7,272.2 Z" fill="#1c1c1c" stroke="#1c1c1c" stroke-width="0.3" />
<line x1="554.0" y1="273.1" x2="480.2" y2="313.3" stroke="#1c1c1c" stroke-width="0.8"/>
<path d="M480.2,313.3 L483.5,310.0 L484.8,312.3 Z" fill="#1c1c1c" stroke="#1c1c1c" stroke-width="0.3" />
<line x1="550.8" y1="311.5" x2="523.7" y2="327.0" stroke="#1c1c1c" stroke-width="0.8"/>
<path d="M523.7,327.0 L527.0,323.6 L528.3,325.9 Z" fill="#1c1c1c" stroke="#1c1c1c" stroke-width="0.3" />
<line x1="485.0" y1="426.5" x2="475.0" y2="403.4" stroke="#1c1c1c" stroke-width="0.8"/>
<path d="M475.0,403.4 L478.0,407.0 L475.6,408.0 Z" fill="#1c1c1c" stroke="#1c1c1c" stroke-width="0.3" />
<line x1="494.9" y1="460.4" x2="439.0" y2="431.6" stroke="#1c1c1c" stroke-width="0.8"/>
<path d="M439.0,431.6 L443.6,432.5 L442.4,434.8 Z" fill="#1c1c1c" stroke="#1c1c1c" stroke-width="0.3" />
<line x1="503.9" y1="455.5" x2="508.6" y2="410.8" stroke="#1c1c1c" stroke-width="0.8"/>
<path d="M508.6,410.8 L509.4,415.4 L506.8,415.1 Z" fill="#1c1c1c" stroke="#1c1c1c" stroke-width="0.3" />
<line x1="494.0" y1="486.7" x2="427.0" y2="476.0" stroke="#1c1c1c" stroke-width="0.8"/>
<path d="M427.0,476.0 L431.6,475.4 L431.2,478.0 Z" fill="#1c1c1c" stroke="#1c1c1c" stroke-width="0.3" />
<line x1="494.4" y1="517.7" x2="443.0" y2="535.3" stroke="#1c1c1c" stroke-width="0.8"/>
<path d="M443.0,535.3 L446.8,532.6 L447.7,535.1 Z" fill="#1c1c1c" stroke="#1c1c1c" stroke-width="0.3" />
<line x1="279.0" y1="540.5" x2="280.3" y2="575.3" stroke="#1c1c1c" stroke-width="0.8"/>
<path d="M280.3,575.3 L278.8,570.9 L281.4,570.8 Z" fill="#1c1c1c" stroke="#1c1c1c" stroke-width="0.3" />
<line x1="248.9" y1="539.8" x2="233.6" y2="575.5" stroke="#1c1c1c" stroke-width="0.8"/>
<path d="M233.6,575.5 L234.2,570.9 L236.6,571.9 Z" fill="#1c1c1c" stroke="#1c1c1c" stroke-width="0.3" />
<line x1="223.1" y1="539.2" x2="200.6" y2="576.3" stroke="#1c1c1c" stroke-width="0.8"/>
<path d="M200.6,576.3 L201.8,571.8 L204.0,573.1 Z" fill="#1c1c1c" stroke="#1c1c1c" stroke-width="0.3" />
<line x1="191.2" y1="537.0" x2="149.5" y2="569.7" stroke="#1c1c1c" stroke-width="0.8"/>
<path d="M149.5,569.7 L152.2,565.9 L153.8,567.9 Z" fill="#1c1c1c" stroke="#1c1c1c" stroke-width="0.3" />
<line x1="162.0" y1="536.9" x2="98.5" y2="584.5" stroke="#1c1c1c" stroke-width="0.8"/>
<path d="M98.5,584.5 L101.3,580.8 L102.9,582.8 Z" fill="#1c1c1c" stroke="#1c1c1c" stroke-width="0.3" />
<line x1="229.6" y1="444.3" x2="247.8" y2="365.7" stroke="#1c1c1c" stroke-width="0.8"/>
<path d="M247.8,365.7 L248.1,370.4 L245.5,369.8 Z" fill="#1c1c1c" stroke="#1c1c1c" stroke-width="0.3" />
<ellipse cx="507.6" cy="57.0" rx="6.9" ry="6.9" fill="#fff" stroke="#1c1c1c" stroke-width="1.0" />
<ellipse cx="507.6" cy="74.0" rx="6.9" ry="6.9" fill="#fff" stroke="#1c1c1c" stroke-width="1.0" />
<ellipse cx="507.6" cy="90.5" rx="6.9" ry="6.9" fill="#fff" stroke="#1c1c1c" stroke-width="1.0" />
<ellipse cx="507.6" cy="107.0" rx="6.9" ry="6.9" fill="#fff" stroke="#1c1c1c" stroke-width="1.0" />
<ellipse cx="507.6" cy="123.0" rx="6.9" ry="6.9" fill="#fff" stroke="#1c1c1c" stroke-width="1.0" />
<ellipse cx="507.6" cy="139.4" rx="6.9" ry="6.9" fill="#fff" stroke="#1c1c1c" stroke-width="1.0" />
<ellipse cx="507.6" cy="155.2" rx="6.9" ry="6.9" fill="#fff" stroke="#1c1c1c" stroke-width="1.0" />
<ellipse cx="507.6" cy="171.4" rx="6.9" ry="6.9" fill="#fff" stroke="#1c1c1c" stroke-width="1.0" />
<ellipse cx="507.6" cy="188.5" rx="6.9" ry="6.9" fill="#fff" stroke="#1c1c1c" stroke-width="1.0" />
<ellipse cx="508.2" cy="207.9" rx="8.7" ry="8.7" fill="#fff" stroke="#1c1c1c" stroke-width="1.0" />
<ellipse cx="508.2" cy="228.2" rx="8.7" ry="8.7" fill="#fff" stroke="#1c1c1c" stroke-width="1.0" />
<ellipse cx="534.8" cy="228.2" rx="8.7" ry="8.7" fill="#fff" stroke="#1c1c1c" stroke-width="1.0" />
<ellipse cx="561.4" cy="228.2" rx="8.7" ry="8.7" fill="#fff" stroke="#1c1c1c" stroke-width="1.0" />
<ellipse cx="561.6" cy="268.9" rx="8.7" ry="8.7" fill="#fff" stroke="#1c1c1c" stroke-width="1.0" />
<ellipse cx="558.4" cy="307.2" rx="8.7" ry="8.7" fill="#fff" stroke="#1c1c1c" stroke-width="1.0" />
<ellipse cx="488.6" cy="434.9" rx="9.1" ry="9.1" fill="#fff" stroke="#1c1c1c" stroke-width="1.0" />
<ellipse cx="503.0" cy="464.6" rx="9.1" ry="9.1" fill="#fff" stroke="#1c1c1c" stroke-width="1.0" />
<ellipse cx="503.0" cy="488.1" rx="9.1" ry="9.1" fill="#fff" stroke="#1c1c1c" stroke-width="1.0" />
<ellipse cx="503.0" cy="514.8" rx="9.1" ry="9.1" fill="#fff" stroke="#1c1c1c" stroke-width="1.0" />
<ellipse cx="278.6" cy="531.4" rx="9.1" ry="9.1" fill="#fff" stroke="#1c1c1c" stroke-width="1.0" />
<ellipse cx="252.5" cy="531.4" rx="9.1" ry="9.1" fill="#fff" stroke="#1c1c1c" stroke-width="1.0" />
<ellipse cx="227.8" cy="531.4" rx="9.1" ry="9.1" fill="#fff" stroke="#1c1c1c" stroke-width="1.0" />
<ellipse cx="198.4" cy="531.4" rx="9.1" ry="9.1" fill="#fff" stroke="#1c1c1c" stroke-width="1.0" />
<ellipse cx="169.3" cy="531.4" rx="9.1" ry="9.1" fill="#fff" stroke="#1c1c1c" stroke-width="1.0" />
<ellipse cx="227.6" cy="453.2" rx="9.1" ry="9.1" fill="#fff" stroke="#1c1c1c" stroke-width="1.0" />
<text x="507.6" y="61.3" font-size="12" text-anchor="middle" fill="#222">1</text>
<text x="507.6" y="78.3" font-size="12" text-anchor="middle" fill="#222">2</text>
<text x="507.6" y="94.8" font-size="12" text-anchor="middle" fill="#222">3</text>
<text x="507.6" y="111.3" font-size="12" text-anchor="middle" fill="#222">4</text>
<text x="507.6" y="127.3" font-size="12" text-anchor="middle" fill="#222">5</text>
<text x="507.6" y="143.7" font-size="12" text-anchor="middle" fill="#222">6</text>
<text x="507.6" y="159.5" font-size="12" text-anchor="middle" fill="#222">7</text>
<text x="507.6" y="175.7" font-size="12" text-anchor="middle" fill="#222">8</text>
<text x="507.6" y="192.8" font-size="12" text-anchor="middle" fill="#222">9</text>
<text transform="translate(508.2 212.6) scale(0.88 1)" x="0" y="0" font-size="13" text-anchor="middle" fill="#222">10</text>
<text transform="translate(508.2 232.9) scale(0.88 1)" x="0" y="0" font-size="13" text-anchor="middle" fill="#222">11</text>
<text transform="translate(534.8 232.9) scale(0.88 1)" x="0" y="0" font-size="13" text-anchor="middle" fill="#222">12</text>
<text transform="translate(561.4 232.9) scale(0.88 1)" x="0" y="0" font-size="13" text-anchor="middle" fill="#222">13</text>
<text transform="translate(561.6 273.6) scale(0.88 1)" x="0" y="0" font-size="13" text-anchor="middle" fill="#222">14</text>
<text transform="translate(558.4 311.9) scale(0.88 1)" x="0" y="0" font-size="13" text-anchor="middle" fill="#222">15</text>
<text transform="translate(488.6 439.6) scale(0.88 1)" x="0" y="0" font-size="13" text-anchor="middle" fill="#222">14</text>
<text transform="translate(503.0 469.3) scale(0.88 1)" x="0" y="0" font-size="13" text-anchor="middle" fill="#222">16</text>
<text transform="translate(503.0 492.8) scale(0.88 1)" x="0" y="0" font-size="13" text-anchor="middle" fill="#222">17</text>
<text transform="translate(503.0 519.5) scale(0.88 1)" x="0" y="0" font-size="13" text-anchor="middle" fill="#222">18</text>
<text transform="translate(278.6 536.1) scale(0.88 1)" x="0" y="0" font-size="13" text-anchor="middle" fill="#222">19</text>
<text transform="translate(252.5 536.1) scale(0.88 1)" x="0" y="0" font-size="13" text-anchor="middle" fill="#222">20</text>
<text transform="translate(227.8 536.1) scale(0.88 1)" x="0" y="0" font-size="13" text-anchor="middle" fill="#222">21</text>
<text transform="translate(198.4 536.1) scale(0.88 1)" x="0" y="0" font-size="13" text-anchor="middle" fill="#222">22</text>
<text transform="translate(169.3 536.1) scale(0.88 1)" x="0" y="0" font-size="13" text-anchor="middle" fill="#222">23</text>
<text transform="translate(227.6 457.9) scale(0.88 1)" x="0" y="0" font-size="13" text-anchor="middle" fill="#222">24</text>
</svg>
</body></html>
